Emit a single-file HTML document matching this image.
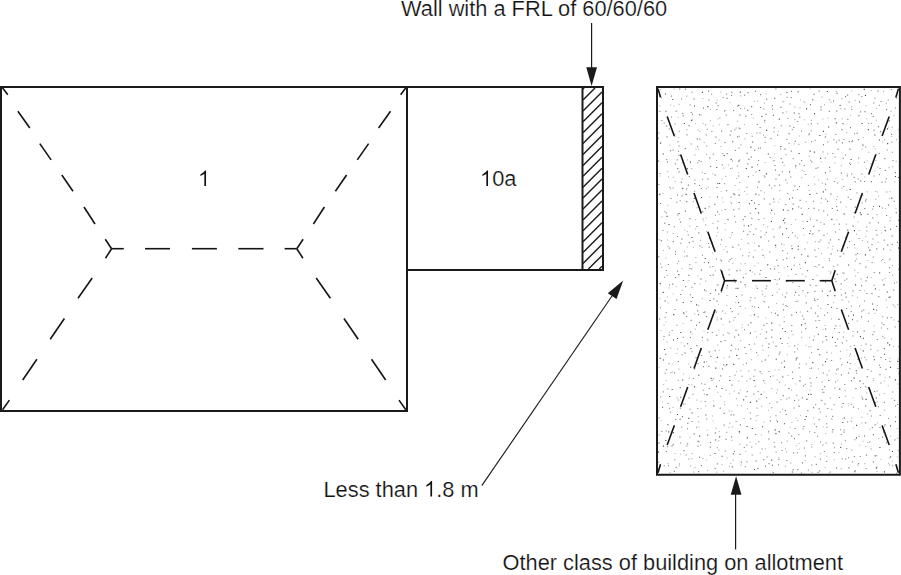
<!DOCTYPE html>
<html><head><meta charset="utf-8"><style>
html,body{margin:0;padding:0;background:#fff;width:901px;height:575px;overflow:hidden}
svg{display:block}
text{font-family:"Liberation Sans",sans-serif}
</style></head><body>
<svg width="901" height="575" viewBox="0 0 901 575">
<path d="M664.9 93.4h1.1v1.1h-1.1zM701.8 91.8h1.1v1.1h-1.1zM739.7 91.6h1.1v1.1h-1.1zM786.4 92.0h1.1v1.1h-1.1zM797.6 91.2h1.1v1.1h-1.1zM826.8 91.0h1.1v1.1h-1.1zM863.7 88.8h1.1v1.1h-1.1zM672.2 98.9h1.1v1.1h-1.1zM774.2 97.7h1.1v1.1h-1.1zM812.2 99.2h1.1v1.1h-1.1zM864.9 94.8h1.1v1.1h-1.1zM693.9 105.4h1.1v1.1h-1.1zM707.3 106.1h1.1v1.1h-1.1zM738.2 104.8h1.1v1.1h-1.1zM780.4 106.7h1.1v1.1h-1.1zM839.6 104.9h1.1v1.1h-1.1zM859.0 101.4h1.1v1.1h-1.1zM665.4 110.7h1.1v1.1h-1.1zM747.2 109.7h1.1v1.1h-1.1zM793.8 112.4h1.1v1.1h-1.1zM806.0 108.3h1.1v1.1h-1.1zM814.0 113.1h1.1v1.1h-1.1zM690.9 119.9h1.1v1.1h-1.1zM761.3 116.0h1.1v1.1h-1.1zM772.8 114.7h1.1v1.1h-1.1zM778.8 118.6h1.1v1.1h-1.1zM834.6 118.2h1.1v1.1h-1.1zM888.6 120.3h1.1v1.1h-1.1zM683.8 122.9h1.1v1.1h-1.1zM688.5 125.2h1.1v1.1h-1.1zM828.0 126.5h1.1v1.1h-1.1zM835.8 122.3h1.1v1.1h-1.1zM861.6 122.9h1.1v1.1h-1.1zM766.1 129.8h1.1v1.1h-1.1zM788.6 133.2h1.1v1.1h-1.1zM808.8 133.4h1.1v1.1h-1.1zM822.8 130.8h1.1v1.1h-1.1zM856.6 132.7h1.1v1.1h-1.1zM867.8 129.1h1.1v1.1h-1.1zM887.0 128.3h1.1v1.1h-1.1zM696.8 138.5h1.1v1.1h-1.1zM819.3 134.9h1.1v1.1h-1.1zM824.8 136.5h1.1v1.1h-1.1zM874.3 134.5h1.1v1.1h-1.1zM878.9 139.5h1.1v1.1h-1.1zM660.1 142.6h1.1v1.1h-1.1zM732.2 141.2h1.1v1.1h-1.1zM750.3 146.6h1.1v1.1h-1.1zM752.1 141.4h1.1v1.1h-1.1zM780.4 145.9h1.1v1.1h-1.1zM862.4 144.6h1.1v1.1h-1.1zM887.1 143.1h1.1v1.1h-1.1zM662.8 153.4h1.1v1.1h-1.1zM767.8 153.4h1.1v1.1h-1.1zM784.5 148.5h1.1v1.1h-1.1zM798.6 152.9h1.1v1.1h-1.1zM809.6 150.6h1.1v1.1h-1.1zM813.8 151.6h1.1v1.1h-1.1zM709.3 157.4h1.1v1.1h-1.1zM723.7 154.9h1.1v1.1h-1.1zM730.6 158.8h1.1v1.1h-1.1zM820.1 157.8h1.1v1.1h-1.1zM850.6 158.9h1.1v1.1h-1.1zM689.9 161.6h1.1v1.1h-1.1zM716.2 167.0h1.1v1.1h-1.1zM738.3 160.6h1.1v1.1h-1.1zM751.5 166.6h1.1v1.1h-1.1zM795.2 165.3h1.1v1.1h-1.1zM677.2 168.2h1.1v1.1h-1.1zM686.7 168.1h1.1v1.1h-1.1zM745.7 167.9h1.1v1.1h-1.1zM759.1 170.0h1.1v1.1h-1.1zM765.9 173.3h1.1v1.1h-1.1zM789.0 171.3h1.1v1.1h-1.1zM824.9 172.2h1.1v1.1h-1.1zM778.6 174.5h1.1v1.1h-1.1zM894.9 176.0h1.1v1.1h-1.1zM898.2 177.0h1.1v1.1h-1.1zM717.3 182.7h1.1v1.1h-1.1zM719.1 182.9h1.1v1.1h-1.1zM758.4 181.3h1.1v1.1h-1.1zM860.2 180.5h1.1v1.1h-1.1zM682.2 187.8h1.1v1.1h-1.1zM733.4 193.3h1.1v1.1h-1.1zM755.3 193.6h1.1v1.1h-1.1zM822.8 191.3h1.1v1.1h-1.1zM830.4 193.4h1.1v1.1h-1.1zM849.7 189.0h1.1v1.1h-1.1zM659.2 193.8h1.1v1.1h-1.1zM685.6 193.8h1.1v1.1h-1.1zM693.8 197.8h1.1v1.1h-1.1zM700.9 197.0h1.1v1.1h-1.1zM716.9 196.5h1.1v1.1h-1.1zM738.6 194.6h1.1v1.1h-1.1zM751.2 200.0h1.1v1.1h-1.1zM773.2 198.5h1.1v1.1h-1.1zM789.0 198.4h1.1v1.1h-1.1zM809.2 193.9h1.1v1.1h-1.1zM891.2 197.6h1.1v1.1h-1.1zM686.2 201.2h1.1v1.1h-1.1zM738.6 201.9h1.1v1.1h-1.1zM749.0 203.2h1.1v1.1h-1.1zM753.9 202.5h1.1v1.1h-1.1zM865.1 200.4h1.1v1.1h-1.1zM879.0 205.8h1.1v1.1h-1.1zM888.1 204.4h1.1v1.1h-1.1zM684.8 210.4h1.1v1.1h-1.1zM704.6 207.8h1.1v1.1h-1.1zM755.1 208.1h1.1v1.1h-1.1zM758.0 212.3h1.1v1.1h-1.1zM771.1 209.8h1.1v1.1h-1.1zM782.9 209.3h1.1v1.1h-1.1zM792.1 208.3h1.1v1.1h-1.1zM843.6 213.3h1.1v1.1h-1.1zM859.7 212.3h1.1v1.1h-1.1zM666.5 215.8h1.1v1.1h-1.1zM727.4 219.0h1.1v1.1h-1.1zM783.0 219.8h1.1v1.1h-1.1zM801.6 213.8h1.1v1.1h-1.1zM831.3 218.8h1.1v1.1h-1.1zM860.6 214.1h1.1v1.1h-1.1zM867.3 213.7h1.1v1.1h-1.1zM898.2 219.7h1.1v1.1h-1.1zM668.5 224.0h1.1v1.1h-1.1zM748.0 225.3h1.1v1.1h-1.1zM770.9 220.8h1.1v1.1h-1.1zM806.7 221.0h1.1v1.1h-1.1zM852.6 225.4h1.1v1.1h-1.1zM716.8 227.4h1.1v1.1h-1.1zM809.1 232.9h1.1v1.1h-1.1zM847.3 229.6h1.1v1.1h-1.1zM853.9 230.1h1.1v1.1h-1.1zM884.7 230.1h1.1v1.1h-1.1zM890.1 228.7h1.1v1.1h-1.1zM691.4 236.9h1.1v1.1h-1.1zM709.0 237.8h1.1v1.1h-1.1zM760.4 236.6h1.1v1.1h-1.1zM782.1 233.6h1.1v1.1h-1.1zM660.7 240.2h1.1v1.1h-1.1zM758.4 245.6h1.1v1.1h-1.1zM775.1 244.8h1.1v1.1h-1.1zM797.8 245.7h1.1v1.1h-1.1zM887.2 244.5h1.1v1.1h-1.1zM791.6 248.1h1.1v1.1h-1.1zM797.7 248.7h1.1v1.1h-1.1zM869.3 249.6h1.1v1.1h-1.1zM883.1 248.4h1.1v1.1h-1.1zM898.0 247.5h1.1v1.1h-1.1zM686.5 255.4h1.1v1.1h-1.1zM704.7 257.9h1.1v1.1h-1.1zM762.5 254.7h1.1v1.1h-1.1zM807.4 255.6h1.1v1.1h-1.1zM830.5 253.5h1.1v1.1h-1.1zM864.9 254.3h1.1v1.1h-1.1zM707.9 262.2h1.1v1.1h-1.1zM767.2 264.3h1.1v1.1h-1.1zM804.8 262.1h1.1v1.1h-1.1zM848.1 264.5h1.1v1.1h-1.1zM700.8 269.4h1.1v1.1h-1.1zM736.4 270.2h1.1v1.1h-1.1zM749.7 270.1h1.1v1.1h-1.1zM774.0 268.4h1.1v1.1h-1.1zM790.9 268.7h1.1v1.1h-1.1zM678.3 274.1h1.1v1.1h-1.1zM700.4 278.5h1.1v1.1h-1.1zM712.6 274.5h1.1v1.1h-1.1zM765.4 277.0h1.1v1.1h-1.1zM778.9 278.5h1.1v1.1h-1.1zM812.4 279.0h1.1v1.1h-1.1zM659.7 283.1h1.1v1.1h-1.1zM682.8 280.0h1.1v1.1h-1.1zM740.2 281.5h1.1v1.1h-1.1zM744.5 284.2h1.1v1.1h-1.1zM855.0 284.3h1.1v1.1h-1.1zM883.4 284.3h1.1v1.1h-1.1zM662.7 291.8h1.1v1.1h-1.1zM704.0 289.5h1.1v1.1h-1.1zM715.0 289.6h1.1v1.1h-1.1zM720.9 291.5h1.1v1.1h-1.1zM737.3 287.8h1.1v1.1h-1.1zM821.8 290.4h1.1v1.1h-1.1zM844.9 292.4h1.1v1.1h-1.1zM874.9 288.3h1.1v1.1h-1.1zM886.8 291.5h1.1v1.1h-1.1zM784.7 296.4h1.1v1.1h-1.1zM827.1 295.1h1.1v1.1h-1.1zM834.3 295.1h1.1v1.1h-1.1zM888.6 296.8h1.1v1.1h-1.1zM664.6 300.4h1.1v1.1h-1.1zM682.7 301.9h1.1v1.1h-1.1zM696.1 304.3h1.1v1.1h-1.1zM709.6 299.9h1.1v1.1h-1.1zM738.1 301.9h1.1v1.1h-1.1zM827.4 304.0h1.1v1.1h-1.1zM872.1 303.4h1.1v1.1h-1.1zM873.1 308.8h1.1v1.1h-1.1zM673.2 314.1h1.1v1.1h-1.1zM720.7 318.3h1.1v1.1h-1.1zM753.8 314.3h1.1v1.1h-1.1zM777.3 314.6h1.1v1.1h-1.1zM791.2 314.4h1.1v1.1h-1.1zM838.4 318.8h1.1v1.1h-1.1zM852.9 314.6h1.1v1.1h-1.1zM750.4 322.2h1.1v1.1h-1.1zM771.2 322.6h1.1v1.1h-1.1zM801.0 324.3h1.1v1.1h-1.1zM680.2 332.0h1.1v1.1h-1.1zM690.2 331.5h1.1v1.1h-1.1zM771.3 329.4h1.1v1.1h-1.1zM784.7 330.9h1.1v1.1h-1.1zM825.1 328.5h1.1v1.1h-1.1zM857.1 331.5h1.1v1.1h-1.1zM677.0 338.0h1.1v1.1h-1.1zM738.1 334.4h1.1v1.1h-1.1zM749.9 332.6h1.1v1.1h-1.1zM780.1 338.1h1.1v1.1h-1.1zM817.8 333.7h1.1v1.1h-1.1zM825.4 336.0h1.1v1.1h-1.1zM832.0 336.8h1.1v1.1h-1.1zM859.9 336.1h1.1v1.1h-1.1zM862.9 337.7h1.1v1.1h-1.1zM673.0 339.4h1.1v1.1h-1.1zM687.1 343.2h1.1v1.1h-1.1zM731.1 344.7h1.1v1.1h-1.1zM768.4 343.5h1.1v1.1h-1.1zM812.8 339.5h1.1v1.1h-1.1zM887.2 342.3h1.1v1.1h-1.1zM889.1 344.3h1.1v1.1h-1.1zM663.9 348.9h1.1v1.1h-1.1zM690.4 347.9h1.1v1.1h-1.1zM708.7 351.4h1.1v1.1h-1.1zM775.5 345.7h1.1v1.1h-1.1zM817.5 348.8h1.1v1.1h-1.1zM835.6 345.4h1.1v1.1h-1.1zM862.7 350.3h1.1v1.1h-1.1zM883.8 348.2h1.1v1.1h-1.1zM659.6 357.8h1.1v1.1h-1.1zM684.4 352.5h1.1v1.1h-1.1zM716.8 356.8h1.1v1.1h-1.1zM736.2 354.8h1.1v1.1h-1.1zM819.2 354.2h1.1v1.1h-1.1zM884.0 353.7h1.1v1.1h-1.1zM662.9 359.5h1.1v1.1h-1.1zM703.7 361.6h1.1v1.1h-1.1zM726.3 364.1h1.1v1.1h-1.1zM733.2 363.8h1.1v1.1h-1.1zM764.8 359.5h1.1v1.1h-1.1zM812.2 362.1h1.1v1.1h-1.1zM824.9 361.1h1.1v1.1h-1.1zM847.0 361.7h1.1v1.1h-1.1zM873.9 359.2h1.1v1.1h-1.1zM897.2 360.8h1.1v1.1h-1.1zM690.1 366.6h1.1v1.1h-1.1zM715.2 367.6h1.1v1.1h-1.1zM783.9 366.6h1.1v1.1h-1.1zM855.8 370.2h1.1v1.1h-1.1zM889.9 366.8h1.1v1.1h-1.1zM698.2 374.7h1.1v1.1h-1.1zM710.6 377.8h1.1v1.1h-1.1zM782.2 376.4h1.1v1.1h-1.1zM853.6 377.6h1.1v1.1h-1.1zM682.1 379.5h1.1v1.1h-1.1zM729.2 380.0h1.1v1.1h-1.1zM753.6 380.1h1.1v1.1h-1.1zM799.4 380.3h1.1v1.1h-1.1zM828.2 379.9h1.1v1.1h-1.1zM859.4 380.6h1.1v1.1h-1.1zM894.9 379.3h1.1v1.1h-1.1zM671.6 389.0h1.1v1.1h-1.1zM694.0 386.3h1.1v1.1h-1.1zM715.9 385.7h1.1v1.1h-1.1zM721.5 387.9h1.1v1.1h-1.1zM788.5 387.9h1.1v1.1h-1.1zM839.2 388.6h1.1v1.1h-1.1zM669.1 396.0h1.1v1.1h-1.1zM706.5 394.1h1.1v1.1h-1.1zM760.6 393.8h1.1v1.1h-1.1zM782.6 395.2h1.1v1.1h-1.1zM808.0 394.0h1.1v1.1h-1.1zM810.5 393.8h1.1v1.1h-1.1zM875.8 397.5h1.1v1.1h-1.1zM743.1 399.3h1.1v1.1h-1.1zM749.8 401.8h1.1v1.1h-1.1zM756.1 400.6h1.1v1.1h-1.1zM806.3 398.8h1.1v1.1h-1.1zM842.6 403.0h1.1v1.1h-1.1zM862.1 398.5h1.1v1.1h-1.1zM865.5 398.8h1.1v1.1h-1.1zM713.3 405.3h1.1v1.1h-1.1zM798.5 405.7h1.1v1.1h-1.1zM813.1 407.2h1.1v1.1h-1.1zM676.9 413.9h1.1v1.1h-1.1zM688.3 417.8h1.1v1.1h-1.1zM691.6 412.5h1.1v1.1h-1.1zM705.3 414.5h1.1v1.1h-1.1zM723.6 412.7h1.1v1.1h-1.1zM805.7 416.0h1.1v1.1h-1.1zM667.4 424.2h1.1v1.1h-1.1zM777.0 421.2h1.1v1.1h-1.1zM783.9 423.2h1.1v1.1h-1.1zM804.4 418.9h1.1v1.1h-1.1zM842.2 422.0h1.1v1.1h-1.1zM738.8 431.0h1.1v1.1h-1.1zM746.6 426.0h1.1v1.1h-1.1zM751.8 427.9h1.1v1.1h-1.1zM762.0 426.2h1.1v1.1h-1.1zM774.7 429.3h1.1v1.1h-1.1zM778.6 431.0h1.1v1.1h-1.1zM832.3 429.2h1.1v1.1h-1.1zM856.1 424.8h1.1v1.1h-1.1zM890.0 425.3h1.1v1.1h-1.1zM668.2 431.3h1.1v1.1h-1.1zM672.8 432.1h1.1v1.1h-1.1zM693.6 433.4h1.1v1.1h-1.1zM699.1 435.6h1.1v1.1h-1.1zM707.2 434.5h1.1v1.1h-1.1zM714.8 432.4h1.1v1.1h-1.1zM719.1 436.3h1.1v1.1h-1.1zM746.7 437.3h1.1v1.1h-1.1zM775.4 433.1h1.1v1.1h-1.1zM855.9 437.3h1.1v1.1h-1.1zM872.9 434.2h1.1v1.1h-1.1zM658.3 442.5h1.1v1.1h-1.1zM665.3 439.9h1.1v1.1h-1.1zM697.5 440.7h1.1v1.1h-1.1zM715.1 439.5h1.1v1.1h-1.1zM662.9 445.6h1.1v1.1h-1.1zM840.1 446.9h1.1v1.1h-1.1zM879.4 447.0h1.1v1.1h-1.1zM891.9 451.0h1.1v1.1h-1.1zM658.0 451.6h1.1v1.1h-1.1zM714.5 452.9h1.1v1.1h-1.1zM721.5 455.7h1.1v1.1h-1.1zM732.8 453.2h1.1v1.1h-1.1zM874.6 455.3h1.1v1.1h-1.1zM890.0 456.3h1.1v1.1h-1.1zM771.1 459.6h1.1v1.1h-1.1zM731.7 466.5h1.1v1.1h-1.1zM754.0 469.0h1.1v1.1h-1.1zM757.4 468.0h1.1v1.1h-1.1zM792.7 469.2h1.1v1.1h-1.1zM875.8 467.6h1.1v1.1h-1.1zM791.8 471.5h1.1v1.1h-1.1zM854.1 471.2h1.1v1.1h-1.1zM883.9 471.3h1.1v1.1h-1.1z" fill="#4a4a4a"/>
<path d="M679.2 88.6h1.1v1.1h-1.1zM684.9 88.6h1.1v1.1h-1.1zM691.4 91.7h1.1v1.1h-1.1zM708.0 90.6h1.1v1.1h-1.1zM711.1 93.7h1.1v1.1h-1.1zM726.0 93.4h1.1v1.1h-1.1zM731.3 91.8h1.1v1.1h-1.1zM747.5 92.1h1.1v1.1h-1.1zM754.9 90.8h1.1v1.1h-1.1zM760.1 94.1h1.1v1.1h-1.1zM775.3 88.5h1.1v1.1h-1.1zM790.8 90.8h1.1v1.1h-1.1zM813.6 93.8h1.1v1.1h-1.1zM818.6 90.3h1.1v1.1h-1.1zM836.6 92.8h1.1v1.1h-1.1zM847.1 94.6h1.1v1.1h-1.1zM858.3 94.2h1.1v1.1h-1.1zM877.4 90.6h1.1v1.1h-1.1zM890.8 88.9h1.1v1.1h-1.1zM660.7 97.0h1.1v1.1h-1.1zM670.9 95.6h1.1v1.1h-1.1zM681.0 98.5h1.1v1.1h-1.1zM693.4 98.3h1.1v1.1h-1.1zM708.5 99.5h1.1v1.1h-1.1zM722.7 97.2h1.1v1.1h-1.1zM726.6 97.8h1.1v1.1h-1.1zM731.0 95.0h1.1v1.1h-1.1zM744.1 94.6h1.1v1.1h-1.1zM766.1 98.8h1.1v1.1h-1.1zM782.4 101.2h1.1v1.1h-1.1zM786.6 96.7h1.1v1.1h-1.1zM790.7 96.9h1.1v1.1h-1.1zM828.7 99.2h1.1v1.1h-1.1zM833.0 100.6h1.1v1.1h-1.1zM845.0 96.1h1.1v1.1h-1.1zM861.3 95.9h1.1v1.1h-1.1zM874.4 97.7h1.1v1.1h-1.1zM880.4 100.9h1.1v1.1h-1.1zM887.7 99.4h1.1v1.1h-1.1zM895.3 97.0h1.1v1.1h-1.1zM896.3 97.7h1.1v1.1h-1.1zM689.4 104.4h1.1v1.1h-1.1zM702.9 107.6h1.1v1.1h-1.1zM715.6 102.3h1.1v1.1h-1.1zM717.6 105.1h1.1v1.1h-1.1zM737.1 105.5h1.1v1.1h-1.1zM751.1 106.1h1.1v1.1h-1.1zM759.9 107.0h1.1v1.1h-1.1zM771.8 105.1h1.1v1.1h-1.1zM789.4 103.5h1.1v1.1h-1.1zM809.9 104.1h1.1v1.1h-1.1zM820.4 106.3h1.1v1.1h-1.1zM848.6 101.6h1.1v1.1h-1.1zM873.2 102.5h1.1v1.1h-1.1zM878.8 104.7h1.1v1.1h-1.1zM894.8 107.4h1.1v1.1h-1.1zM659.3 110.8h1.1v1.1h-1.1zM675.6 110.6h1.1v1.1h-1.1zM682.2 113.0h1.1v1.1h-1.1zM690.6 112.0h1.1v1.1h-1.1zM691.9 113.6h1.1v1.1h-1.1zM699.0 114.1h1.1v1.1h-1.1zM716.3 108.9h1.1v1.1h-1.1zM724.0 110.5h1.1v1.1h-1.1zM733.0 110.0h1.1v1.1h-1.1zM740.1 107.9h1.1v1.1h-1.1zM751.1 113.9h1.1v1.1h-1.1zM763.4 108.5h1.1v1.1h-1.1zM765.4 113.8h1.1v1.1h-1.1zM772.0 108.7h1.1v1.1h-1.1zM782.4 112.3h1.1v1.1h-1.1zM798.4 113.1h1.1v1.1h-1.1zM820.4 109.3h1.1v1.1h-1.1zM828.7 110.8h1.1v1.1h-1.1zM836.2 110.6h1.1v1.1h-1.1zM844.4 108.5h1.1v1.1h-1.1zM851.1 109.0h1.1v1.1h-1.1zM860.1 111.3h1.1v1.1h-1.1zM864.5 111.1h1.1v1.1h-1.1zM871.0 113.1h1.1v1.1h-1.1zM886.0 109.1h1.1v1.1h-1.1zM661.3 119.9h1.1v1.1h-1.1zM671.0 116.4h1.1v1.1h-1.1zM682.6 115.3h1.1v1.1h-1.1zM691.5 119.3h1.1v1.1h-1.1zM719.3 117.4h1.1v1.1h-1.1zM725.8 114.4h1.1v1.1h-1.1zM739.3 114.6h1.1v1.1h-1.1zM745.2 115.6h1.1v1.1h-1.1zM764.2 119.8h1.1v1.1h-1.1zM787.3 117.9h1.1v1.1h-1.1zM799.2 116.6h1.1v1.1h-1.1zM847.3 119.0h1.1v1.1h-1.1zM858.4 115.1h1.1v1.1h-1.1zM872.7 116.0h1.1v1.1h-1.1zM663.6 122.5h1.1v1.1h-1.1zM666.1 125.3h1.1v1.1h-1.1zM674.5 123.5h1.1v1.1h-1.1zM705.1 124.2h1.1v1.1h-1.1zM727.4 124.1h1.1v1.1h-1.1zM738.5 127.5h1.1v1.1h-1.1zM756.8 124.0h1.1v1.1h-1.1zM759.6 127.0h1.1v1.1h-1.1zM773.7 127.3h1.1v1.1h-1.1zM780.8 125.2h1.1v1.1h-1.1zM789.3 125.6h1.1v1.1h-1.1zM793.3 126.8h1.1v1.1h-1.1zM796.8 121.0h1.1v1.1h-1.1zM810.7 123.3h1.1v1.1h-1.1zM817.2 123.2h1.1v1.1h-1.1zM842.2 122.9h1.1v1.1h-1.1zM849.9 127.1h1.1v1.1h-1.1zM868.1 122.9h1.1v1.1h-1.1zM877.9 126.1h1.1v1.1h-1.1zM658.3 132.4h1.1v1.1h-1.1zM668.7 128.5h1.1v1.1h-1.1zM678.6 130.7h1.1v1.1h-1.1zM706.8 128.7h1.1v1.1h-1.1zM711.3 130.9h1.1v1.1h-1.1zM721.0 130.6h1.1v1.1h-1.1zM730.6 130.6h1.1v1.1h-1.1zM734.2 129.2h1.1v1.1h-1.1zM739.5 128.2h1.1v1.1h-1.1zM746.2 132.9h1.1v1.1h-1.1zM756.3 132.5h1.1v1.1h-1.1zM759.5 132.5h1.1v1.1h-1.1zM773.5 131.4h1.1v1.1h-1.1zM791.8 129.2h1.1v1.1h-1.1zM800.9 130.5h1.1v1.1h-1.1zM810.6 130.4h1.1v1.1h-1.1zM835.2 134.0h1.1v1.1h-1.1zM841.4 129.1h1.1v1.1h-1.1zM854.0 133.2h1.1v1.1h-1.1zM873.5 129.6h1.1v1.1h-1.1zM879.9 131.1h1.1v1.1h-1.1zM891.0 133.8h1.1v1.1h-1.1zM658.0 137.7h1.1v1.1h-1.1zM666.4 136.3h1.1v1.1h-1.1zM674.3 135.7h1.1v1.1h-1.1zM686.4 134.3h1.1v1.1h-1.1zM699.3 138.6h1.1v1.1h-1.1zM705.7 134.4h1.1v1.1h-1.1zM715.5 136.6h1.1v1.1h-1.1zM729.6 134.6h1.1v1.1h-1.1zM737.0 136.3h1.1v1.1h-1.1zM738.7 135.7h1.1v1.1h-1.1zM751.6 135.7h1.1v1.1h-1.1zM764.6 136.8h1.1v1.1h-1.1zM770.4 138.1h1.1v1.1h-1.1zM777.1 134.6h1.1v1.1h-1.1zM786.4 138.9h1.1v1.1h-1.1zM794.8 140.8h1.1v1.1h-1.1zM814.6 139.7h1.1v1.1h-1.1zM833.3 139.2h1.1v1.1h-1.1zM838.6 139.6h1.1v1.1h-1.1zM843.4 138.9h1.1v1.1h-1.1zM851.9 140.3h1.1v1.1h-1.1zM858.1 139.1h1.1v1.1h-1.1zM677.4 141.2h1.1v1.1h-1.1zM678.5 145.5h1.1v1.1h-1.1zM690.7 143.4h1.1v1.1h-1.1zM697.0 146.2h1.1v1.1h-1.1zM706.2 145.4h1.1v1.1h-1.1zM714.8 143.0h1.1v1.1h-1.1zM724.5 142.1h1.1v1.1h-1.1zM740.4 144.4h1.1v1.1h-1.1zM759.8 147.3h1.1v1.1h-1.1zM764.7 141.7h1.1v1.1h-1.1zM788.5 142.7h1.1v1.1h-1.1zM798.3 143.7h1.1v1.1h-1.1zM811.0 141.2h1.1v1.1h-1.1zM823.0 144.1h1.1v1.1h-1.1zM827.3 141.5h1.1v1.1h-1.1zM836.1 141.5h1.1v1.1h-1.1zM842.0 142.3h1.1v1.1h-1.1zM848.8 141.1h1.1v1.1h-1.1zM865.1 146.5h1.1v1.1h-1.1zM891.4 141.7h1.1v1.1h-1.1zM670.0 150.1h1.1v1.1h-1.1zM672.4 149.5h1.1v1.1h-1.1zM678.0 150.7h1.1v1.1h-1.1zM684.8 148.1h1.1v1.1h-1.1zM712.8 153.7h1.1v1.1h-1.1zM722.3 153.2h1.1v1.1h-1.1zM726.7 153.1h1.1v1.1h-1.1zM734.9 150.0h1.1v1.1h-1.1zM738.5 147.4h1.1v1.1h-1.1zM746.6 152.8h1.1v1.1h-1.1zM754.2 149.8h1.1v1.1h-1.1zM757.9 147.7h1.1v1.1h-1.1zM780.1 148.4h1.1v1.1h-1.1zM790.7 150.6h1.1v1.1h-1.1zM822.4 151.5h1.1v1.1h-1.1zM832.3 153.0h1.1v1.1h-1.1zM837.4 148.8h1.1v1.1h-1.1zM849.0 148.4h1.1v1.1h-1.1zM878.8 153.0h1.1v1.1h-1.1zM886.7 149.4h1.1v1.1h-1.1zM891.8 151.7h1.1v1.1h-1.1zM658.0 160.5h1.1v1.1h-1.1zM666.2 159.0h1.1v1.1h-1.1zM676.7 159.3h1.1v1.1h-1.1zM678.5 154.8h1.1v1.1h-1.1zM698.5 160.1h1.1v1.1h-1.1zM731.9 160.5h1.1v1.1h-1.1zM739.1 159.4h1.1v1.1h-1.1zM748.3 158.8h1.1v1.1h-1.1zM750.8 156.3h1.1v1.1h-1.1zM758.0 159.9h1.1v1.1h-1.1zM769.6 157.0h1.1v1.1h-1.1zM773.5 160.1h1.1v1.1h-1.1zM780.7 158.1h1.1v1.1h-1.1zM785.5 154.2h1.1v1.1h-1.1zM792.7 158.2h1.1v1.1h-1.1zM801.1 159.9h1.1v1.1h-1.1zM810.1 159.7h1.1v1.1h-1.1zM824.7 157.5h1.1v1.1h-1.1zM834.5 156.5h1.1v1.1h-1.1zM842.7 157.8h1.1v1.1h-1.1zM845.0 154.5h1.1v1.1h-1.1zM858.0 157.4h1.1v1.1h-1.1zM875.8 154.2h1.1v1.1h-1.1zM884.3 158.1h1.1v1.1h-1.1zM892.4 159.9h1.1v1.1h-1.1zM666.9 161.3h1.1v1.1h-1.1zM674.7 163.3h1.1v1.1h-1.1zM697.2 162.2h1.1v1.1h-1.1zM700.6 161.0h1.1v1.1h-1.1zM710.0 165.8h1.1v1.1h-1.1zM721.7 164.3h1.1v1.1h-1.1zM736.8 165.4h1.1v1.1h-1.1zM747.3 163.3h1.1v1.1h-1.1zM757.1 164.2h1.1v1.1h-1.1zM774.4 164.9h1.1v1.1h-1.1zM782.2 161.8h1.1v1.1h-1.1zM799.1 163.5h1.1v1.1h-1.1zM803.7 164.9h1.1v1.1h-1.1zM811.3 161.3h1.1v1.1h-1.1zM829.1 166.8h1.1v1.1h-1.1zM849.2 162.6h1.1v1.1h-1.1zM850.0 163.9h1.1v1.1h-1.1zM863.9 161.7h1.1v1.1h-1.1zM659.5 173.0h1.1v1.1h-1.1zM678.5 171.3h1.1v1.1h-1.1zM704.5 172.9h1.1v1.1h-1.1zM730.2 167.9h1.1v1.1h-1.1zM755.6 171.5h1.1v1.1h-1.1zM774.9 169.6h1.1v1.1h-1.1zM781.9 171.2h1.1v1.1h-1.1zM815.5 167.8h1.1v1.1h-1.1zM817.5 167.2h1.1v1.1h-1.1zM829.6 170.4h1.1v1.1h-1.1zM840.8 172.6h1.1v1.1h-1.1zM851.1 173.4h1.1v1.1h-1.1zM861.4 173.4h1.1v1.1h-1.1zM879.5 167.9h1.1v1.1h-1.1zM884.7 169.8h1.1v1.1h-1.1zM894.9 172.1h1.1v1.1h-1.1zM688.7 176.1h1.1v1.1h-1.1zM694.4 179.5h1.1v1.1h-1.1zM702.0 178.7h1.1v1.1h-1.1zM707.3 178.3h1.1v1.1h-1.1zM714.6 174.6h1.1v1.1h-1.1zM738.2 175.4h1.1v1.1h-1.1zM747.8 176.1h1.1v1.1h-1.1zM764.3 176.3h1.1v1.1h-1.1zM775.4 178.6h1.1v1.1h-1.1zM785.3 179.6h1.1v1.1h-1.1zM790.2 176.4h1.1v1.1h-1.1zM805.2 173.9h1.1v1.1h-1.1zM826.8 178.7h1.1v1.1h-1.1zM846.7 175.3h1.1v1.1h-1.1zM853.6 176.8h1.1v1.1h-1.1zM857.7 178.4h1.1v1.1h-1.1zM873.4 175.5h1.1v1.1h-1.1zM879.0 173.9h1.1v1.1h-1.1zM885.8 178.2h1.1v1.1h-1.1zM658.3 184.0h1.1v1.1h-1.1zM669.3 186.7h1.1v1.1h-1.1zM680.8 181.8h1.1v1.1h-1.1zM687.8 184.6h1.1v1.1h-1.1zM694.4 183.1h1.1v1.1h-1.1zM699.0 184.9h1.1v1.1h-1.1zM724.1 183.2h1.1v1.1h-1.1zM746.4 186.7h1.1v1.1h-1.1zM757.0 186.7h1.1v1.1h-1.1zM768.9 184.6h1.1v1.1h-1.1zM774.4 185.2h1.1v1.1h-1.1zM779.1 184.6h1.1v1.1h-1.1zM794.3 185.5h1.1v1.1h-1.1zM798.9 186.0h1.1v1.1h-1.1zM807.8 184.9h1.1v1.1h-1.1zM825.0 183.6h1.1v1.1h-1.1zM833.7 181.0h1.1v1.1h-1.1zM837.2 182.4h1.1v1.1h-1.1zM843.2 185.9h1.1v1.1h-1.1zM854.6 181.3h1.1v1.1h-1.1zM864.0 180.9h1.1v1.1h-1.1zM870.9 181.1h1.1v1.1h-1.1zM881.4 181.6h1.1v1.1h-1.1zM884.7 181.4h1.1v1.1h-1.1zM672.6 187.5h1.1v1.1h-1.1zM686.1 188.5h1.1v1.1h-1.1zM694.1 190.7h1.1v1.1h-1.1zM700.7 188.0h1.1v1.1h-1.1zM716.5 187.0h1.1v1.1h-1.1zM726.0 190.1h1.1v1.1h-1.1zM760.4 190.2h1.1v1.1h-1.1zM787.1 193.0h1.1v1.1h-1.1zM796.9 188.9h1.1v1.1h-1.1zM816.3 192.8h1.1v1.1h-1.1zM825.2 189.1h1.1v1.1h-1.1zM856.3 192.4h1.1v1.1h-1.1zM886.3 191.5h1.1v1.1h-1.1zM670.6 197.9h1.1v1.1h-1.1zM677.0 194.5h1.1v1.1h-1.1zM681.5 195.3h1.1v1.1h-1.1zM730.5 196.7h1.1v1.1h-1.1zM734.2 194.1h1.1v1.1h-1.1zM758.4 194.4h1.1v1.1h-1.1zM763.7 198.3h1.1v1.1h-1.1zM791.9 197.3h1.1v1.1h-1.1zM799.6 199.8h1.1v1.1h-1.1zM820.9 197.7h1.1v1.1h-1.1zM825.1 198.4h1.1v1.1h-1.1zM847.6 196.7h1.1v1.1h-1.1zM850.4 198.9h1.1v1.1h-1.1zM862.3 194.7h1.1v1.1h-1.1zM865.7 198.7h1.1v1.1h-1.1zM660.0 203.0h1.1v1.1h-1.1zM676.3 201.7h1.1v1.1h-1.1zM679.7 200.2h1.1v1.1h-1.1zM708.7 206.2h1.1v1.1h-1.1zM714.3 203.8h1.1v1.1h-1.1zM758.5 204.0h1.1v1.1h-1.1zM769.4 203.6h1.1v1.1h-1.1zM773.5 201.5h1.1v1.1h-1.1zM785.3 204.0h1.1v1.1h-1.1zM792.7 203.6h1.1v1.1h-1.1zM798.2 206.3h1.1v1.1h-1.1zM812.9 200.7h1.1v1.1h-1.1zM827.0 200.8h1.1v1.1h-1.1zM836.1 205.9h1.1v1.1h-1.1zM840.1 201.6h1.1v1.1h-1.1zM854.8 206.6h1.1v1.1h-1.1zM861.6 202.4h1.1v1.1h-1.1zM872.9 205.9h1.1v1.1h-1.1zM893.7 200.8h1.1v1.1h-1.1zM664.3 211.2h1.1v1.1h-1.1zM665.8 212.4h1.1v1.1h-1.1zM677.6 213.3h1.1v1.1h-1.1zM678.9 213.0h1.1v1.1h-1.1zM702.3 211.1h1.1v1.1h-1.1zM717.0 211.3h1.1v1.1h-1.1zM724.7 208.9h1.1v1.1h-1.1zM733.2 209.3h1.1v1.1h-1.1zM738.3 208.4h1.1v1.1h-1.1zM749.8 212.7h1.1v1.1h-1.1zM787.5 209.8h1.1v1.1h-1.1zM800.7 207.7h1.1v1.1h-1.1zM808.1 208.0h1.1v1.1h-1.1zM813.5 207.8h1.1v1.1h-1.1zM818.2 209.5h1.1v1.1h-1.1zM823.2 210.6h1.1v1.1h-1.1zM831.8 207.9h1.1v1.1h-1.1zM836.9 209.8h1.1v1.1h-1.1zM853.6 212.0h1.1v1.1h-1.1zM864.3 208.1h1.1v1.1h-1.1zM872.1 208.5h1.1v1.1h-1.1zM881.9 207.4h1.1v1.1h-1.1zM895.7 212.1h1.1v1.1h-1.1zM689.5 218.1h1.1v1.1h-1.1zM702.4 218.4h1.1v1.1h-1.1zM714.9 214.7h1.1v1.1h-1.1zM734.0 215.7h1.1v1.1h-1.1zM742.8 219.1h1.1v1.1h-1.1zM744.4 216.1h1.1v1.1h-1.1zM751.3 217.8h1.1v1.1h-1.1zM758.2 218.9h1.1v1.1h-1.1zM784.2 218.1h1.1v1.1h-1.1zM810.0 218.7h1.1v1.1h-1.1zM816.5 219.8h1.1v1.1h-1.1zM827.1 214.5h1.1v1.1h-1.1zM853.6 216.5h1.1v1.1h-1.1zM872.3 217.3h1.1v1.1h-1.1zM876.5 214.2h1.1v1.1h-1.1zM886.0 214.9h1.1v1.1h-1.1zM664.2 222.6h1.1v1.1h-1.1zM673.8 226.2h1.1v1.1h-1.1zM680.0 221.6h1.1v1.1h-1.1zM696.3 226.0h1.1v1.1h-1.1zM705.2 224.5h1.1v1.1h-1.1zM717.5 220.7h1.1v1.1h-1.1zM735.0 221.5h1.1v1.1h-1.1zM743.6 225.1h1.1v1.1h-1.1zM750.6 224.2h1.1v1.1h-1.1zM779.7 226.3h1.1v1.1h-1.1zM784.1 222.3h1.1v1.1h-1.1zM813.2 225.8h1.1v1.1h-1.1zM823.6 223.6h1.1v1.1h-1.1zM838.8 223.6h1.1v1.1h-1.1zM866.2 226.4h1.1v1.1h-1.1zM869.3 222.3h1.1v1.1h-1.1zM877.9 222.1h1.1v1.1h-1.1zM884.3 226.5h1.1v1.1h-1.1zM896.0 225.8h1.1v1.1h-1.1zM662.3 230.0h1.1v1.1h-1.1zM698.2 232.3h1.1v1.1h-1.1zM731.6 232.2h1.1v1.1h-1.1zM743.0 230.6h1.1v1.1h-1.1zM749.4 231.2h1.1v1.1h-1.1zM755.2 228.5h1.1v1.1h-1.1zM765.7 231.8h1.1v1.1h-1.1zM785.9 228.1h1.1v1.1h-1.1zM792.1 232.2h1.1v1.1h-1.1zM802.9 227.9h1.1v1.1h-1.1zM810.1 230.3h1.1v1.1h-1.1zM818.4 230.1h1.1v1.1h-1.1zM835.0 231.4h1.1v1.1h-1.1zM866.3 230.4h1.1v1.1h-1.1zM875.6 229.8h1.1v1.1h-1.1zM677.1 236.0h1.1v1.1h-1.1zM681.3 238.6h1.1v1.1h-1.1zM687.7 234.4h1.1v1.1h-1.1zM721.0 239.3h1.1v1.1h-1.1zM747.2 234.1h1.1v1.1h-1.1zM753.1 234.0h1.1v1.1h-1.1zM773.4 236.3h1.1v1.1h-1.1zM787.9 237.0h1.1v1.1h-1.1zM794.7 235.5h1.1v1.1h-1.1zM812.3 233.6h1.1v1.1h-1.1zM820.2 239.5h1.1v1.1h-1.1zM823.4 234.8h1.1v1.1h-1.1zM829.9 239.3h1.1v1.1h-1.1zM838.3 239.1h1.1v1.1h-1.1zM844.8 237.2h1.1v1.1h-1.1zM858.6 237.9h1.1v1.1h-1.1zM872.4 238.4h1.1v1.1h-1.1zM876.4 234.3h1.1v1.1h-1.1zM883.6 239.6h1.1v1.1h-1.1zM891.6 235.6h1.1v1.1h-1.1zM672.8 241.1h1.1v1.1h-1.1zM680.1 242.7h1.1v1.1h-1.1zM688.8 242.1h1.1v1.1h-1.1zM692.6 240.7h1.1v1.1h-1.1zM699.4 245.3h1.1v1.1h-1.1zM707.9 242.9h1.1v1.1h-1.1zM738.1 244.5h1.1v1.1h-1.1zM747.7 242.7h1.1v1.1h-1.1zM768.1 240.4h1.1v1.1h-1.1zM781.1 243.5h1.1v1.1h-1.1zM791.2 245.4h1.1v1.1h-1.1zM818.5 241.3h1.1v1.1h-1.1zM828.4 242.4h1.1v1.1h-1.1zM842.0 245.5h1.1v1.1h-1.1zM849.0 241.0h1.1v1.1h-1.1zM853.9 244.2h1.1v1.1h-1.1zM867.2 241.4h1.1v1.1h-1.1zM871.5 244.0h1.1v1.1h-1.1zM891.7 243.8h1.1v1.1h-1.1zM896.9 241.8h1.1v1.1h-1.1zM668.8 247.6h1.1v1.1h-1.1zM675.0 251.1h1.1v1.1h-1.1zM701.6 246.7h1.1v1.1h-1.1zM708.7 246.6h1.1v1.1h-1.1zM726.6 251.3h1.1v1.1h-1.1zM732.5 247.0h1.1v1.1h-1.1zM769.2 251.5h1.1v1.1h-1.1zM782.2 250.1h1.1v1.1h-1.1zM804.5 248.4h1.1v1.1h-1.1zM814.3 249.6h1.1v1.1h-1.1zM837.1 250.1h1.1v1.1h-1.1zM847.0 247.2h1.1v1.1h-1.1zM857.0 252.9h1.1v1.1h-1.1zM868.1 247.2h1.1v1.1h-1.1zM876.2 248.3h1.1v1.1h-1.1zM658.3 256.1h1.1v1.1h-1.1zM674.9 253.7h1.1v1.1h-1.1zM701.9 254.7h1.1v1.1h-1.1zM715.9 258.5h1.1v1.1h-1.1zM729.6 259.1h1.1v1.1h-1.1zM731.3 257.7h1.1v1.1h-1.1zM742.1 255.2h1.1v1.1h-1.1zM748.1 255.4h1.1v1.1h-1.1zM752.8 256.6h1.1v1.1h-1.1zM776.3 259.6h1.1v1.1h-1.1zM782.8 259.2h1.1v1.1h-1.1zM786.2 257.8h1.1v1.1h-1.1zM794.0 257.1h1.1v1.1h-1.1zM801.1 254.1h1.1v1.1h-1.1zM815.4 256.2h1.1v1.1h-1.1zM828.6 258.2h1.1v1.1h-1.1zM839.6 255.8h1.1v1.1h-1.1zM843.2 253.1h1.1v1.1h-1.1zM855.4 254.1h1.1v1.1h-1.1zM872.8 256.4h1.1v1.1h-1.1zM882.2 259.0h1.1v1.1h-1.1zM660.0 263.4h1.1v1.1h-1.1zM667.8 263.9h1.1v1.1h-1.1zM689.3 264.2h1.1v1.1h-1.1zM703.8 262.0h1.1v1.1h-1.1zM712.3 266.0h1.1v1.1h-1.1zM721.0 260.3h1.1v1.1h-1.1zM777.5 265.1h1.1v1.1h-1.1zM787.0 266.0h1.1v1.1h-1.1zM793.7 264.7h1.1v1.1h-1.1zM799.1 263.7h1.1v1.1h-1.1zM814.4 265.9h1.1v1.1h-1.1zM818.4 264.3h1.1v1.1h-1.1zM829.0 260.2h1.1v1.1h-1.1zM833.3 265.7h1.1v1.1h-1.1zM837.3 264.5h1.1v1.1h-1.1zM854.8 260.4h1.1v1.1h-1.1zM859.4 263.1h1.1v1.1h-1.1zM871.5 261.9h1.1v1.1h-1.1zM661.2 266.7h1.1v1.1h-1.1zM665.8 269.9h1.1v1.1h-1.1zM677.0 270.6h1.1v1.1h-1.1zM689.4 268.0h1.1v1.1h-1.1zM691.1 268.5h1.1v1.1h-1.1zM709.5 266.4h1.1v1.1h-1.1zM720.0 269.3h1.1v1.1h-1.1zM728.6 269.2h1.1v1.1h-1.1zM739.6 269.7h1.1v1.1h-1.1zM760.1 270.0h1.1v1.1h-1.1zM769.8 268.3h1.1v1.1h-1.1zM807.0 270.1h1.1v1.1h-1.1zM822.4 266.8h1.1v1.1h-1.1zM830.3 271.4h1.1v1.1h-1.1zM843.3 272.6h1.1v1.1h-1.1zM865.3 266.6h1.1v1.1h-1.1zM873.6 272.0h1.1v1.1h-1.1zM879.1 272.1h1.1v1.1h-1.1zM889.0 267.2h1.1v1.1h-1.1zM889.0 271.9h1.1v1.1h-1.1zM898.3 268.8h1.1v1.1h-1.1zM664.1 276.7h1.1v1.1h-1.1zM675.0 277.1h1.1v1.1h-1.1zM688.3 274.8h1.1v1.1h-1.1zM709.7 274.9h1.1v1.1h-1.1zM722.4 276.9h1.1v1.1h-1.1zM728.6 274.2h1.1v1.1h-1.1zM733.6 278.7h1.1v1.1h-1.1zM742.9 277.1h1.1v1.1h-1.1zM745.4 273.2h1.1v1.1h-1.1zM759.3 273.7h1.1v1.1h-1.1zM774.4 278.9h1.1v1.1h-1.1zM795.3 274.0h1.1v1.1h-1.1zM834.3 278.3h1.1v1.1h-1.1zM836.8 273.8h1.1v1.1h-1.1zM846.3 278.3h1.1v1.1h-1.1zM860.5 278.5h1.1v1.1h-1.1zM866.9 276.8h1.1v1.1h-1.1zM668.9 284.5h1.1v1.1h-1.1zM672.2 283.6h1.1v1.1h-1.1zM694.3 283.1h1.1v1.1h-1.1zM717.6 284.5h1.1v1.1h-1.1zM726.9 285.1h1.1v1.1h-1.1zM734.8 281.7h1.1v1.1h-1.1zM766.1 285.4h1.1v1.1h-1.1zM776.4 283.5h1.1v1.1h-1.1zM786.3 280.9h1.1v1.1h-1.1zM792.2 282.2h1.1v1.1h-1.1zM798.6 286.0h1.1v1.1h-1.1zM809.7 284.6h1.1v1.1h-1.1zM815.5 285.1h1.1v1.1h-1.1zM822.7 280.3h1.1v1.1h-1.1zM824.9 281.6h1.1v1.1h-1.1zM835.4 281.0h1.1v1.1h-1.1zM840.7 283.3h1.1v1.1h-1.1zM844.2 279.7h1.1v1.1h-1.1zM861.1 285.1h1.1v1.1h-1.1zM865.5 280.3h1.1v1.1h-1.1zM873.7 284.7h1.1v1.1h-1.1zM882.2 279.5h1.1v1.1h-1.1zM894.0 282.5h1.1v1.1h-1.1zM685.1 286.1h1.1v1.1h-1.1zM691.4 286.7h1.1v1.1h-1.1zM705.4 290.5h1.1v1.1h-1.1zM726.3 287.4h1.1v1.1h-1.1zM735.4 287.8h1.1v1.1h-1.1zM756.7 287.8h1.1v1.1h-1.1zM765.5 288.2h1.1v1.1h-1.1zM786.2 292.4h1.1v1.1h-1.1zM795.0 291.8h1.1v1.1h-1.1zM802.5 290.2h1.1v1.1h-1.1zM807.2 292.1h1.1v1.1h-1.1zM814.4 290.8h1.1v1.1h-1.1zM829.9 290.6h1.1v1.1h-1.1zM852.5 290.3h1.1v1.1h-1.1zM859.4 289.9h1.1v1.1h-1.1zM893.2 289.6h1.1v1.1h-1.1zM680.2 294.0h1.1v1.1h-1.1zM689.8 294.2h1.1v1.1h-1.1zM692.0 297.0h1.1v1.1h-1.1zM709.9 292.9h1.1v1.1h-1.1zM713.2 298.3h1.1v1.1h-1.1zM718.2 293.6h1.1v1.1h-1.1zM735.9 296.0h1.1v1.1h-1.1zM741.6 294.4h1.1v1.1h-1.1zM750.4 297.2h1.1v1.1h-1.1zM754.6 297.4h1.1v1.1h-1.1zM771.8 295.0h1.1v1.1h-1.1zM798.4 294.7h1.1v1.1h-1.1zM814.0 298.3h1.1v1.1h-1.1zM817.2 298.9h1.1v1.1h-1.1zM840.9 294.5h1.1v1.1h-1.1zM845.6 296.6h1.1v1.1h-1.1zM866.4 293.0h1.1v1.1h-1.1zM871.4 293.1h1.1v1.1h-1.1zM878.3 296.1h1.1v1.1h-1.1zM889.7 296.3h1.1v1.1h-1.1zM676.2 299.3h1.1v1.1h-1.1zM690.5 301.1h1.1v1.1h-1.1zM716.4 300.6h1.1v1.1h-1.1zM749.6 300.2h1.1v1.1h-1.1zM751.7 305.7h1.1v1.1h-1.1zM763.5 301.0h1.1v1.1h-1.1zM782.6 303.7h1.1v1.1h-1.1zM785.4 304.9h1.1v1.1h-1.1zM795.7 300.9h1.1v1.1h-1.1zM805.7 302.3h1.1v1.1h-1.1zM814.5 300.1h1.1v1.1h-1.1zM841.6 299.4h1.1v1.1h-1.1zM859.0 305.4h1.1v1.1h-1.1zM863.9 300.5h1.1v1.1h-1.1zM892.7 304.5h1.1v1.1h-1.1zM659.9 307.2h1.1v1.1h-1.1zM665.6 311.9h1.1v1.1h-1.1zM674.6 308.9h1.1v1.1h-1.1zM683.0 312.1h1.1v1.1h-1.1zM697.0 310.3h1.1v1.1h-1.1zM703.3 311.9h1.1v1.1h-1.1zM704.5 311.3h1.1v1.1h-1.1zM715.8 311.6h1.1v1.1h-1.1zM722.1 310.5h1.1v1.1h-1.1zM730.0 307.9h1.1v1.1h-1.1zM731.6 311.1h1.1v1.1h-1.1zM739.8 306.0h1.1v1.1h-1.1zM754.0 306.4h1.1v1.1h-1.1zM758.0 307.0h1.1v1.1h-1.1zM768.1 306.6h1.1v1.1h-1.1zM783.0 309.3h1.1v1.1h-1.1zM786.6 305.9h1.1v1.1h-1.1zM795.9 311.8h1.1v1.1h-1.1zM807.1 310.8h1.1v1.1h-1.1zM810.7 307.6h1.1v1.1h-1.1zM827.0 312.2h1.1v1.1h-1.1zM830.9 306.8h1.1v1.1h-1.1zM836.5 308.0h1.1v1.1h-1.1zM846.0 308.0h1.1v1.1h-1.1zM850.6 311.0h1.1v1.1h-1.1zM861.3 310.6h1.1v1.1h-1.1zM863.2 309.4h1.1v1.1h-1.1zM876.1 309.6h1.1v1.1h-1.1zM659.1 318.6h1.1v1.1h-1.1zM664.6 316.7h1.1v1.1h-1.1zM683.6 313.2h1.1v1.1h-1.1zM686.2 316.0h1.1v1.1h-1.1zM697.9 314.1h1.1v1.1h-1.1zM706.1 316.1h1.1v1.1h-1.1zM734.4 316.9h1.1v1.1h-1.1zM737.8 313.5h1.1v1.1h-1.1zM757.6 316.2h1.1v1.1h-1.1zM774.9 312.8h1.1v1.1h-1.1zM801.9 315.4h1.1v1.1h-1.1zM803.3 318.6h1.1v1.1h-1.1zM815.0 312.6h1.1v1.1h-1.1zM817.4 315.8h1.1v1.1h-1.1zM824.0 314.7h1.1v1.1h-1.1zM848.0 315.6h1.1v1.1h-1.1zM861.0 316.6h1.1v1.1h-1.1zM868.3 312.7h1.1v1.1h-1.1zM882.2 316.2h1.1v1.1h-1.1zM886.8 317.3h1.1v1.1h-1.1zM890.7 317.0h1.1v1.1h-1.1zM676.4 324.7h1.1v1.1h-1.1zM690.6 319.8h1.1v1.1h-1.1zM696.0 324.6h1.1v1.1h-1.1zM698.9 322.0h1.1v1.1h-1.1zM729.1 321.3h1.1v1.1h-1.1zM747.7 324.5h1.1v1.1h-1.1zM763.3 324.8h1.1v1.1h-1.1zM766.4 323.0h1.1v1.1h-1.1zM783.6 321.2h1.1v1.1h-1.1zM791.2 324.9h1.1v1.1h-1.1zM804.6 323.1h1.1v1.1h-1.1zM815.2 320.2h1.1v1.1h-1.1zM818.6 320.0h1.1v1.1h-1.1zM835.4 325.3h1.1v1.1h-1.1zM848.0 323.0h1.1v1.1h-1.1zM852.0 319.1h1.1v1.1h-1.1zM867.9 320.7h1.1v1.1h-1.1zM881.5 322.4h1.1v1.1h-1.1zM883.3 324.0h1.1v1.1h-1.1zM897.8 320.8h1.1v1.1h-1.1zM671.6 329.9h1.1v1.1h-1.1zM707.2 331.9h1.1v1.1h-1.1zM711.7 331.9h1.1v1.1h-1.1zM727.4 332.2h1.1v1.1h-1.1zM735.5 329.8h1.1v1.1h-1.1zM744.0 329.2h1.1v1.1h-1.1zM766.0 331.6h1.1v1.1h-1.1zM782.0 327.9h1.1v1.1h-1.1zM791.1 330.5h1.1v1.1h-1.1zM805.2 328.1h1.1v1.1h-1.1zM816.2 326.8h1.1v1.1h-1.1zM834.1 328.0h1.1v1.1h-1.1zM838.7 332.0h1.1v1.1h-1.1zM863.6 330.6h1.1v1.1h-1.1zM873.6 331.2h1.1v1.1h-1.1zM880.8 327.4h1.1v1.1h-1.1zM887.1 328.2h1.1v1.1h-1.1zM894.6 326.4h1.1v1.1h-1.1zM663.5 335.9h1.1v1.1h-1.1zM668.6 334.6h1.1v1.1h-1.1zM682.8 336.7h1.1v1.1h-1.1zM689.9 336.9h1.1v1.1h-1.1zM701.8 336.8h1.1v1.1h-1.1zM716.3 334.8h1.1v1.1h-1.1zM722.7 334.5h1.1v1.1h-1.1zM734.0 336.6h1.1v1.1h-1.1zM765.4 337.8h1.1v1.1h-1.1zM771.2 336.6h1.1v1.1h-1.1zM837.0 338.5h1.1v1.1h-1.1zM842.8 336.4h1.1v1.1h-1.1zM852.3 335.5h1.1v1.1h-1.1zM872.4 334.1h1.1v1.1h-1.1zM882.2 335.7h1.1v1.1h-1.1zM883.8 337.4h1.1v1.1h-1.1zM696.3 345.1h1.1v1.1h-1.1zM707.4 339.7h1.1v1.1h-1.1zM720.4 341.1h1.1v1.1h-1.1zM724.7 339.9h1.1v1.1h-1.1zM748.7 343.9h1.1v1.1h-1.1zM754.1 343.4h1.1v1.1h-1.1zM781.6 343.0h1.1v1.1h-1.1zM794.2 345.3h1.1v1.1h-1.1zM822.1 341.2h1.1v1.1h-1.1zM826.2 339.3h1.1v1.1h-1.1zM834.8 341.9h1.1v1.1h-1.1zM841.8 342.3h1.1v1.1h-1.1zM846.2 340.2h1.1v1.1h-1.1zM853.7 345.0h1.1v1.1h-1.1zM865.5 343.6h1.1v1.1h-1.1zM870.3 344.7h1.1v1.1h-1.1zM876.7 338.9h1.1v1.1h-1.1zM683.8 345.4h1.1v1.1h-1.1zM691.6 351.2h1.1v1.1h-1.1zM714.6 350.1h1.1v1.1h-1.1zM730.5 350.1h1.1v1.1h-1.1zM735.2 348.5h1.1v1.1h-1.1zM738.0 348.7h1.1v1.1h-1.1zM744.2 347.0h1.1v1.1h-1.1zM767.9 347.0h1.1v1.1h-1.1zM779.5 351.6h1.1v1.1h-1.1zM794.2 351.5h1.1v1.1h-1.1zM796.9 348.5h1.1v1.1h-1.1zM826.4 351.7h1.1v1.1h-1.1zM870.4 348.7h1.1v1.1h-1.1zM665.2 353.8h1.1v1.1h-1.1zM681.6 354.2h1.1v1.1h-1.1zM695.5 357.1h1.1v1.1h-1.1zM701.0 355.0h1.1v1.1h-1.1zM710.3 355.8h1.1v1.1h-1.1zM728.8 356.4h1.1v1.1h-1.1zM738.4 358.2h1.1v1.1h-1.1zM745.5 352.9h1.1v1.1h-1.1zM756.0 352.2h1.1v1.1h-1.1zM775.7 358.6h1.1v1.1h-1.1zM778.6 353.6h1.1v1.1h-1.1zM795.8 358.1h1.1v1.1h-1.1zM796.6 357.1h1.1v1.1h-1.1zM810.9 352.2h1.1v1.1h-1.1zM826.5 358.4h1.1v1.1h-1.1zM839.8 358.2h1.1v1.1h-1.1zM850.0 353.4h1.1v1.1h-1.1zM864.3 356.7h1.1v1.1h-1.1zM873.2 356.1h1.1v1.1h-1.1zM880.4 356.9h1.1v1.1h-1.1zM668.5 363.2h1.1v1.1h-1.1zM677.9 361.0h1.1v1.1h-1.1zM697.4 363.1h1.1v1.1h-1.1zM723.2 364.3h1.1v1.1h-1.1zM746.0 362.7h1.1v1.1h-1.1zM761.4 360.7h1.1v1.1h-1.1zM775.7 359.0h1.1v1.1h-1.1zM781.1 362.4h1.1v1.1h-1.1zM783.8 360.6h1.1v1.1h-1.1zM795.6 359.5h1.1v1.1h-1.1zM799.0 363.4h1.1v1.1h-1.1zM805.6 363.5h1.1v1.1h-1.1zM822.2 364.6h1.1v1.1h-1.1zM831.1 359.9h1.1v1.1h-1.1zM841.2 364.2h1.1v1.1h-1.1zM849.7 363.0h1.1v1.1h-1.1zM857.5 358.8h1.1v1.1h-1.1zM879.0 364.7h1.1v1.1h-1.1zM885.2 359.0h1.1v1.1h-1.1zM889.4 361.0h1.1v1.1h-1.1zM666.0 369.2h1.1v1.1h-1.1zM694.2 368.3h1.1v1.1h-1.1zM702.8 366.1h1.1v1.1h-1.1zM708.4 365.8h1.1v1.1h-1.1zM722.0 368.3h1.1v1.1h-1.1zM754.4 369.5h1.1v1.1h-1.1zM759.6 371.1h1.1v1.1h-1.1zM768.5 370.9h1.1v1.1h-1.1zM791.9 371.6h1.1v1.1h-1.1zM798.6 367.3h1.1v1.1h-1.1zM810.9 367.6h1.1v1.1h-1.1zM836.1 369.3h1.1v1.1h-1.1zM837.5 368.3h1.1v1.1h-1.1zM849.4 368.2h1.1v1.1h-1.1zM867.3 369.0h1.1v1.1h-1.1zM870.8 370.7h1.1v1.1h-1.1zM879.8 366.9h1.1v1.1h-1.1zM885.5 368.8h1.1v1.1h-1.1zM897.4 367.9h1.1v1.1h-1.1zM664.6 372.7h1.1v1.1h-1.1zM670.5 372.2h1.1v1.1h-1.1zM674.0 372.3h1.1v1.1h-1.1zM692.8 378.0h1.1v1.1h-1.1zM712.7 378.2h1.1v1.1h-1.1zM720.2 375.3h1.1v1.1h-1.1zM734.4 374.7h1.1v1.1h-1.1zM741.5 375.7h1.1v1.1h-1.1zM749.7 378.2h1.1v1.1h-1.1zM753.3 375.7h1.1v1.1h-1.1zM769.9 376.0h1.1v1.1h-1.1zM792.2 377.9h1.1v1.1h-1.1zM809.5 377.7h1.1v1.1h-1.1zM816.1 377.0h1.1v1.1h-1.1zM822.9 372.4h1.1v1.1h-1.1zM826.6 374.4h1.1v1.1h-1.1zM840.9 374.3h1.1v1.1h-1.1zM847.9 372.6h1.1v1.1h-1.1zM856.2 372.7h1.1v1.1h-1.1zM866.7 376.1h1.1v1.1h-1.1zM879.4 374.1h1.1v1.1h-1.1zM889.1 376.3h1.1v1.1h-1.1zM677.6 379.7h1.1v1.1h-1.1zM701.1 383.2h1.1v1.1h-1.1zM704.4 383.7h1.1v1.1h-1.1zM711.4 380.0h1.1v1.1h-1.1zM731.4 384.6h1.1v1.1h-1.1zM763.1 380.1h1.1v1.1h-1.1zM779.0 381.7h1.1v1.1h-1.1zM804.7 383.7h1.1v1.1h-1.1zM810.4 382.3h1.1v1.1h-1.1zM821.6 381.4h1.1v1.1h-1.1zM835.0 381.5h1.1v1.1h-1.1zM844.2 383.9h1.1v1.1h-1.1zM851.0 380.1h1.1v1.1h-1.1zM862.8 383.2h1.1v1.1h-1.1zM880.4 382.5h1.1v1.1h-1.1zM662.7 391.3h1.1v1.1h-1.1zM667.2 388.5h1.1v1.1h-1.1zM679.7 387.1h1.1v1.1h-1.1zM685.4 391.1h1.1v1.1h-1.1zM702.8 389.7h1.1v1.1h-1.1zM708.7 388.1h1.1v1.1h-1.1zM725.7 389.4h1.1v1.1h-1.1zM746.7 391.1h1.1v1.1h-1.1zM754.5 385.7h1.1v1.1h-1.1zM757.6 391.1h1.1v1.1h-1.1zM803.0 385.3h1.1v1.1h-1.1zM810.5 385.5h1.1v1.1h-1.1zM821.8 389.0h1.1v1.1h-1.1zM824.1 386.1h1.1v1.1h-1.1zM834.3 387.4h1.1v1.1h-1.1zM855.4 388.1h1.1v1.1h-1.1zM860.0 386.9h1.1v1.1h-1.1zM865.2 386.3h1.1v1.1h-1.1zM874.1 391.0h1.1v1.1h-1.1zM876.5 390.4h1.1v1.1h-1.1zM892.1 391.5h1.1v1.1h-1.1zM660.1 396.4h1.1v1.1h-1.1zM680.1 396.8h1.1v1.1h-1.1zM688.4 397.5h1.1v1.1h-1.1zM692.5 393.7h1.1v1.1h-1.1zM738.3 392.6h1.1v1.1h-1.1zM745.5 395.9h1.1v1.1h-1.1zM753.3 393.6h1.1v1.1h-1.1zM765.9 397.2h1.1v1.1h-1.1zM788.6 397.2h1.1v1.1h-1.1zM796.2 394.7h1.1v1.1h-1.1zM801.8 397.3h1.1v1.1h-1.1zM822.4 391.8h1.1v1.1h-1.1zM838.9 396.9h1.1v1.1h-1.1zM861.5 396.5h1.1v1.1h-1.1zM667.5 402.9h1.1v1.1h-1.1zM677.8 399.4h1.1v1.1h-1.1zM683.2 403.4h1.1v1.1h-1.1zM704.7 401.0h1.1v1.1h-1.1zM776.5 401.6h1.1v1.1h-1.1zM786.3 398.4h1.1v1.1h-1.1zM794.0 399.9h1.1v1.1h-1.1zM815.1 404.2h1.1v1.1h-1.1zM821.3 399.8h1.1v1.1h-1.1zM824.5 403.6h1.1v1.1h-1.1zM833.6 404.2h1.1v1.1h-1.1zM850.8 403.7h1.1v1.1h-1.1zM875.1 401.9h1.1v1.1h-1.1zM883.8 401.8h1.1v1.1h-1.1zM894.1 399.8h1.1v1.1h-1.1zM897.1 403.9h1.1v1.1h-1.1zM662.1 406.8h1.1v1.1h-1.1zM668.8 407.7h1.1v1.1h-1.1zM679.8 407.6h1.1v1.1h-1.1zM689.5 408.7h1.1v1.1h-1.1zM697.2 407.9h1.1v1.1h-1.1zM719.7 407.6h1.1v1.1h-1.1zM756.5 407.5h1.1v1.1h-1.1zM771.2 407.2h1.1v1.1h-1.1zM784.8 410.1h1.1v1.1h-1.1zM793.6 407.5h1.1v1.1h-1.1zM807.3 410.1h1.1v1.1h-1.1zM818.7 408.3h1.1v1.1h-1.1zM827.2 407.9h1.1v1.1h-1.1zM841.4 406.5h1.1v1.1h-1.1zM853.0 406.6h1.1v1.1h-1.1zM865.1 405.3h1.1v1.1h-1.1zM869.6 410.1h1.1v1.1h-1.1zM877.9 406.2h1.1v1.1h-1.1zM895.0 405.5h1.1v1.1h-1.1zM658.6 417.5h1.1v1.1h-1.1zM670.1 411.7h1.1v1.1h-1.1zM682.0 416.1h1.1v1.1h-1.1zM730.5 414.3h1.1v1.1h-1.1zM733.3 414.3h1.1v1.1h-1.1zM749.7 412.5h1.1v1.1h-1.1zM775.4 415.2h1.1v1.1h-1.1zM785.6 414.0h1.1v1.1h-1.1zM819.8 411.4h1.1v1.1h-1.1zM832.1 415.8h1.1v1.1h-1.1zM843.9 417.3h1.1v1.1h-1.1zM870.9 415.4h1.1v1.1h-1.1zM879.6 415.0h1.1v1.1h-1.1zM888.1 417.9h1.1v1.1h-1.1zM895.1 416.4h1.1v1.1h-1.1zM675.1 418.9h1.1v1.1h-1.1zM679.6 418.8h1.1v1.1h-1.1zM687.3 422.8h1.1v1.1h-1.1zM691.5 421.0h1.1v1.1h-1.1zM706.2 418.4h1.1v1.1h-1.1zM723.6 424.6h1.1v1.1h-1.1zM735.6 421.0h1.1v1.1h-1.1zM739.8 424.3h1.1v1.1h-1.1zM750.1 418.3h1.1v1.1h-1.1zM769.8 420.3h1.1v1.1h-1.1zM814.1 423.5h1.1v1.1h-1.1zM818.6 419.1h1.1v1.1h-1.1zM826.1 423.2h1.1v1.1h-1.1zM831.3 418.4h1.1v1.1h-1.1zM847.0 421.5h1.1v1.1h-1.1zM850.8 420.7h1.1v1.1h-1.1zM865.1 422.3h1.1v1.1h-1.1zM874.6 424.3h1.1v1.1h-1.1zM884.5 423.9h1.1v1.1h-1.1zM894.9 421.1h1.1v1.1h-1.1zM661.3 431.0h1.1v1.1h-1.1zM665.7 430.4h1.1v1.1h-1.1zM673.7 425.3h1.1v1.1h-1.1zM681.1 426.5h1.1v1.1h-1.1zM686.9 428.2h1.1v1.1h-1.1zM696.1 426.7h1.1v1.1h-1.1zM768.1 430.7h1.1v1.1h-1.1zM794.6 428.0h1.1v1.1h-1.1zM802.6 428.5h1.1v1.1h-1.1zM803.3 425.9h1.1v1.1h-1.1zM815.8 426.1h1.1v1.1h-1.1zM826.4 426.7h1.1v1.1h-1.1zM840.1 429.2h1.1v1.1h-1.1zM843.5 429.5h1.1v1.1h-1.1zM871.7 427.1h1.1v1.1h-1.1zM879.4 427.0h1.1v1.1h-1.1zM884.1 425.5h1.1v1.1h-1.1zM658.6 434.5h1.1v1.1h-1.1zM679.4 436.6h1.1v1.1h-1.1zM726.2 431.7h1.1v1.1h-1.1zM731.1 436.3h1.1v1.1h-1.1zM738.8 432.2h1.1v1.1h-1.1zM755.1 434.0h1.1v1.1h-1.1zM788.3 432.5h1.1v1.1h-1.1zM791.1 435.6h1.1v1.1h-1.1zM798.3 434.2h1.1v1.1h-1.1zM809.2 431.2h1.1v1.1h-1.1zM814.2 431.9h1.1v1.1h-1.1zM817.0 435.7h1.1v1.1h-1.1zM831.8 431.5h1.1v1.1h-1.1zM840.7 434.0h1.1v1.1h-1.1zM843.4 431.6h1.1v1.1h-1.1zM858.5 435.7h1.1v1.1h-1.1zM863.9 435.6h1.1v1.1h-1.1zM882.0 436.6h1.1v1.1h-1.1zM883.2 431.6h1.1v1.1h-1.1zM672.7 444.1h1.1v1.1h-1.1zM680.1 442.4h1.1v1.1h-1.1zM687.1 443.3h1.1v1.1h-1.1zM698.5 441.4h1.1v1.1h-1.1zM709.9 442.0h1.1v1.1h-1.1zM725.5 438.8h1.1v1.1h-1.1zM758.3 441.2h1.1v1.1h-1.1zM768.4 438.6h1.1v1.1h-1.1zM773.6 441.7h1.1v1.1h-1.1zM780.9 442.2h1.1v1.1h-1.1zM793.9 438.1h1.1v1.1h-1.1zM806.1 440.3h1.1v1.1h-1.1zM820.0 441.4h1.1v1.1h-1.1zM825.7 442.5h1.1v1.1h-1.1zM832.8 442.6h1.1v1.1h-1.1zM844.8 440.2h1.1v1.1h-1.1zM854.2 439.2h1.1v1.1h-1.1zM869.3 441.4h1.1v1.1h-1.1zM885.9 442.2h1.1v1.1h-1.1zM894.3 439.3h1.1v1.1h-1.1zM667.0 446.2h1.1v1.1h-1.1zM671.5 445.3h1.1v1.1h-1.1zM683.4 450.1h1.1v1.1h-1.1zM686.3 445.4h1.1v1.1h-1.1zM697.4 445.6h1.1v1.1h-1.1zM709.8 446.6h1.1v1.1h-1.1zM716.7 447.2h1.1v1.1h-1.1zM724.8 450.4h1.1v1.1h-1.1zM734.0 451.0h1.1v1.1h-1.1zM743.7 447.0h1.1v1.1h-1.1zM746.3 444.5h1.1v1.1h-1.1zM751.2 446.5h1.1v1.1h-1.1zM761.5 448.5h1.1v1.1h-1.1zM774.2 446.3h1.1v1.1h-1.1zM781.5 450.0h1.1v1.1h-1.1zM803.8 447.4h1.1v1.1h-1.1zM811.2 446.5h1.1v1.1h-1.1zM822.4 444.5h1.1v1.1h-1.1zM823.8 450.9h1.1v1.1h-1.1zM833.9 447.2h1.1v1.1h-1.1zM846.2 448.0h1.1v1.1h-1.1zM851.2 449.5h1.1v1.1h-1.1zM870.4 448.4h1.1v1.1h-1.1zM665.8 451.0h1.1v1.1h-1.1zM685.5 454.4h1.1v1.1h-1.1zM699.0 456.8h1.1v1.1h-1.1zM739.4 453.8h1.1v1.1h-1.1zM751.7 454.5h1.1v1.1h-1.1zM766.6 456.5h1.1v1.1h-1.1zM775.6 451.4h1.1v1.1h-1.1zM793.1 452.3h1.1v1.1h-1.1zM797.0 452.2h1.1v1.1h-1.1zM804.9 455.3h1.1v1.1h-1.1zM833.7 451.9h1.1v1.1h-1.1zM848.0 457.2h1.1v1.1h-1.1zM853.8 455.9h1.1v1.1h-1.1zM859.7 456.0h1.1v1.1h-1.1zM865.9 454.6h1.1v1.1h-1.1zM658.2 461.7h1.1v1.1h-1.1zM674.2 459.2h1.1v1.1h-1.1zM679.1 463.5h1.1v1.1h-1.1zM688.4 458.5h1.1v1.1h-1.1zM716.8 463.3h1.1v1.1h-1.1zM740.8 461.6h1.1v1.1h-1.1zM746.3 461.2h1.1v1.1h-1.1zM755.6 460.6h1.1v1.1h-1.1zM763.2 459.1h1.1v1.1h-1.1zM768.5 463.1h1.1v1.1h-1.1zM778.3 459.0h1.1v1.1h-1.1zM786.4 459.9h1.1v1.1h-1.1zM801.9 462.3h1.1v1.1h-1.1zM815.8 463.8h1.1v1.1h-1.1zM819.9 458.6h1.1v1.1h-1.1zM826.1 460.9h1.1v1.1h-1.1zM841.6 458.2h1.1v1.1h-1.1zM845.1 458.4h1.1v1.1h-1.1zM851.9 461.4h1.1v1.1h-1.1zM858.1 462.9h1.1v1.1h-1.1zM872.8 461.3h1.1v1.1h-1.1zM663.6 465.2h1.1v1.1h-1.1zM668.0 465.2h1.1v1.1h-1.1zM675.5 467.1h1.1v1.1h-1.1zM700.8 464.9h1.1v1.1h-1.1zM714.6 467.8h1.1v1.1h-1.1zM744.8 466.2h1.1v1.1h-1.1zM764.9 465.6h1.1v1.1h-1.1zM771.9 464.8h1.1v1.1h-1.1zM778.0 464.2h1.1v1.1h-1.1zM797.4 469.1h1.1v1.1h-1.1zM807.8 469.4h1.1v1.1h-1.1zM811.2 464.4h1.1v1.1h-1.1zM819.1 470.3h1.1v1.1h-1.1zM835.9 467.6h1.1v1.1h-1.1zM848.3 467.3h1.1v1.1h-1.1zM854.9 470.2h1.1v1.1h-1.1zM857.4 464.5h1.1v1.1h-1.1zM865.6 468.0h1.1v1.1h-1.1zM876.3 466.6h1.1v1.1h-1.1zM892.2 465.2h1.1v1.1h-1.1zM673.8 470.8h1.1v1.1h-1.1zM698.1 471.1h1.1v1.1h-1.1zM772.7 472.1h1.1v1.1h-1.1zM800.9 472.5h1.1v1.1h-1.1zM817.5 471.8h1.1v1.1h-1.1zM896.1 472.7h1.1v1.1h-1.1z" fill="#808080"/>
<path d="M660.1 89.0h1.1v1.1h-1.1zM673.6 88.4h1.1v1.1h-1.1zM720.2 91.6h1.1v1.1h-1.1zM765.6 93.2h1.1v1.1h-1.1zM780.3 93.8h1.1v1.1h-1.1zM809.5 88.5h1.1v1.1h-1.1zM835.8 91.1h1.1v1.1h-1.1zM851.3 90.5h1.1v1.1h-1.1zM870.6 89.9h1.1v1.1h-1.1zM882.9 91.0h1.1v1.1h-1.1zM686.3 95.6h1.1v1.1h-1.1zM702.2 98.0h1.1v1.1h-1.1zM716.7 99.7h1.1v1.1h-1.1zM740.1 95.3h1.1v1.1h-1.1zM753.9 100.9h1.1v1.1h-1.1zM757.2 100.4h1.1v1.1h-1.1zM799.8 99.2h1.1v1.1h-1.1zM803.4 100.9h1.1v1.1h-1.1zM821.4 96.6h1.1v1.1h-1.1zM841.3 98.1h1.1v1.1h-1.1zM854.7 100.0h1.1v1.1h-1.1zM659.3 105.3h1.1v1.1h-1.1zM670.1 104.4h1.1v1.1h-1.1zM673.5 105.4h1.1v1.1h-1.1zM678.6 103.8h1.1v1.1h-1.1zM729.3 102.2h1.1v1.1h-1.1zM743.9 107.6h1.1v1.1h-1.1zM763.8 102.6h1.1v1.1h-1.1zM794.4 106.6h1.1v1.1h-1.1zM799.4 107.3h1.1v1.1h-1.1zM804.1 102.2h1.1v1.1h-1.1zM824.1 104.3h1.1v1.1h-1.1zM830.4 101.6h1.1v1.1h-1.1zM851.2 106.3h1.1v1.1h-1.1zM865.5 105.2h1.1v1.1h-1.1zM885.8 102.8h1.1v1.1h-1.1zM710.0 108.9h1.1v1.1h-1.1zM725.3 109.9h1.1v1.1h-1.1zM786.1 111.3h1.1v1.1h-1.1zM840.3 108.1h1.1v1.1h-1.1zM876.0 107.9h1.1v1.1h-1.1zM890.6 110.8h1.1v1.1h-1.1zM677.7 116.7h1.1v1.1h-1.1zM700.4 114.8h1.1v1.1h-1.1zM709.8 120.1h1.1v1.1h-1.1zM717.2 118.4h1.1v1.1h-1.1zM736.9 120.8h1.1v1.1h-1.1zM752.9 117.5h1.1v1.1h-1.1zM794.3 119.1h1.1v1.1h-1.1zM804.2 119.2h1.1v1.1h-1.1zM810.8 119.8h1.1v1.1h-1.1zM822.3 118.5h1.1v1.1h-1.1zM827.6 117.7h1.1v1.1h-1.1zM841.7 118.3h1.1v1.1h-1.1zM850.0 114.7h1.1v1.1h-1.1zM866.3 118.5h1.1v1.1h-1.1zM875.8 119.7h1.1v1.1h-1.1zM893.4 114.8h1.1v1.1h-1.1zM695.0 123.2h1.1v1.1h-1.1zM702.5 123.0h1.1v1.1h-1.1zM712.6 125.4h1.1v1.1h-1.1zM718.8 124.2h1.1v1.1h-1.1zM735.7 127.6h1.1v1.1h-1.1zM743.9 124.0h1.1v1.1h-1.1zM764.1 121.6h1.1v1.1h-1.1zM807.7 123.7h1.1v1.1h-1.1zM843.2 123.6h1.1v1.1h-1.1zM870.8 122.8h1.1v1.1h-1.1zM888.2 126.4h1.1v1.1h-1.1zM891.6 126.8h1.1v1.1h-1.1zM674.4 133.6h1.1v1.1h-1.1zM686.3 129.3h1.1v1.1h-1.1zM697.4 129.3h1.1v1.1h-1.1zM699.2 130.8h1.1v1.1h-1.1zM777.6 130.9h1.1v1.1h-1.1zM825.6 133.7h1.1v1.1h-1.1zM846.2 132.1h1.1v1.1h-1.1zM898.2 129.1h1.1v1.1h-1.1zM678.0 136.9h1.1v1.1h-1.1zM718.7 139.5h1.1v1.1h-1.1zM744.5 138.3h1.1v1.1h-1.1zM763.0 134.6h1.1v1.1h-1.1zM798.8 135.4h1.1v1.1h-1.1zM808.1 134.4h1.1v1.1h-1.1zM862.8 136.9h1.1v1.1h-1.1zM884.1 139.1h1.1v1.1h-1.1zM891.2 136.0h1.1v1.1h-1.1zM895.9 139.1h1.1v1.1h-1.1zM669.4 144.7h1.1v1.1h-1.1zM703.7 142.0h1.1v1.1h-1.1zM720.4 146.0h1.1v1.1h-1.1zM774.3 145.2h1.1v1.1h-1.1zM793.7 143.3h1.1v1.1h-1.1zM804.8 141.8h1.1v1.1h-1.1zM850.9 141.1h1.1v1.1h-1.1zM873.2 145.9h1.1v1.1h-1.1zM882.0 141.5h1.1v1.1h-1.1zM695.4 148.4h1.1v1.1h-1.1zM698.2 148.5h1.1v1.1h-1.1zM706.0 153.9h1.1v1.1h-1.1zM774.0 153.5h1.1v1.1h-1.1zM827.2 153.1h1.1v1.1h-1.1zM850.2 149.0h1.1v1.1h-1.1zM861.4 148.7h1.1v1.1h-1.1zM868.2 151.8h1.1v1.1h-1.1zM874.7 148.2h1.1v1.1h-1.1zM686.8 159.3h1.1v1.1h-1.1zM694.4 154.3h1.1v1.1h-1.1zM715.8 159.9h1.1v1.1h-1.1zM808.4 155.7h1.1v1.1h-1.1zM866.8 160.5h1.1v1.1h-1.1zM875.3 159.9h1.1v1.1h-1.1zM658.3 161.0h1.1v1.1h-1.1zM681.7 161.9h1.1v1.1h-1.1zM727.9 164.4h1.1v1.1h-1.1zM764.5 161.9h1.1v1.1h-1.1zM783.8 164.7h1.1v1.1h-1.1zM820.7 161.4h1.1v1.1h-1.1zM834.3 162.4h1.1v1.1h-1.1zM840.7 165.1h1.1v1.1h-1.1zM857.7 162.2h1.1v1.1h-1.1zM870.5 163.2h1.1v1.1h-1.1zM877.4 166.6h1.1v1.1h-1.1zM888.5 167.1h1.1v1.1h-1.1zM892.1 166.1h1.1v1.1h-1.1zM895.6 160.8h1.1v1.1h-1.1zM667.2 171.1h1.1v1.1h-1.1zM691.2 168.1h1.1v1.1h-1.1zM701.8 171.8h1.1v1.1h-1.1zM712.1 173.5h1.1v1.1h-1.1zM723.3 167.6h1.1v1.1h-1.1zM731.9 167.4h1.1v1.1h-1.1zM737.8 172.2h1.1v1.1h-1.1zM795.2 167.4h1.1v1.1h-1.1zM801.7 169.5h1.1v1.1h-1.1zM803.5 170.9h1.1v1.1h-1.1zM846.7 173.5h1.1v1.1h-1.1zM865.9 167.9h1.1v1.1h-1.1zM874.3 170.4h1.1v1.1h-1.1zM659.4 175.5h1.1v1.1h-1.1zM667.9 176.3h1.1v1.1h-1.1zM672.7 176.8h1.1v1.1h-1.1zM681.7 178.3h1.1v1.1h-1.1zM721.6 178.4h1.1v1.1h-1.1zM725.3 175.8h1.1v1.1h-1.1zM736.1 177.9h1.1v1.1h-1.1zM752.6 175.0h1.1v1.1h-1.1zM763.6 174.9h1.1v1.1h-1.1zM801.2 177.1h1.1v1.1h-1.1zM813.8 176.5h1.1v1.1h-1.1zM818.0 179.4h1.1v1.1h-1.1zM835.2 178.2h1.1v1.1h-1.1zM842.0 178.9h1.1v1.1h-1.1zM864.2 176.4h1.1v1.1h-1.1zM674.6 181.1h1.1v1.1h-1.1zM707.6 186.6h1.1v1.1h-1.1zM734.7 184.9h1.1v1.1h-1.1zM739.0 181.9h1.1v1.1h-1.1zM786.5 182.3h1.1v1.1h-1.1zM814.3 183.6h1.1v1.1h-1.1zM821.7 182.8h1.1v1.1h-1.1zM894.2 181.5h1.1v1.1h-1.1zM662.4 192.9h1.1v1.1h-1.1zM670.1 188.3h1.1v1.1h-1.1zM705.8 188.1h1.1v1.1h-1.1zM720.5 190.7h1.1v1.1h-1.1zM738.4 189.4h1.1v1.1h-1.1zM744.0 191.0h1.1v1.1h-1.1zM763.8 191.7h1.1v1.1h-1.1zM771.0 187.6h1.1v1.1h-1.1zM779.2 190.1h1.1v1.1h-1.1zM792.9 189.8h1.1v1.1h-1.1zM808.7 189.7h1.1v1.1h-1.1zM841.4 187.3h1.1v1.1h-1.1zM846.5 189.7h1.1v1.1h-1.1zM866.6 191.3h1.1v1.1h-1.1zM875.2 191.0h1.1v1.1h-1.1zM876.8 191.4h1.1v1.1h-1.1zM889.3 191.2h1.1v1.1h-1.1zM709.3 196.4h1.1v1.1h-1.1zM721.9 197.5h1.1v1.1h-1.1zM746.6 193.7h1.1v1.1h-1.1zM779.2 198.5h1.1v1.1h-1.1zM809.9 193.7h1.1v1.1h-1.1zM835.9 199.1h1.1v1.1h-1.1zM836.6 196.0h1.1v1.1h-1.1zM875.4 198.8h1.1v1.1h-1.1zM878.0 195.4h1.1v1.1h-1.1zM888.8 198.2h1.1v1.1h-1.1zM667.1 204.7h1.1v1.1h-1.1zM692.9 201.1h1.1v1.1h-1.1zM698.6 206.6h1.1v1.1h-1.1zM722.7 201.5h1.1v1.1h-1.1zM730.1 201.7h1.1v1.1h-1.1zM731.0 202.8h1.1v1.1h-1.1zM778.1 201.4h1.1v1.1h-1.1zM805.7 200.9h1.1v1.1h-1.1zM820.3 202.5h1.1v1.1h-1.1zM845.6 206.4h1.1v1.1h-1.1zM696.5 207.1h1.1v1.1h-1.1zM721.3 209.7h1.1v1.1h-1.1zM769.8 212.5h1.1v1.1h-1.1zM885.1 207.9h1.1v1.1h-1.1zM895.5 207.8h1.1v1.1h-1.1zM661.4 216.3h1.1v1.1h-1.1zM677.2 214.8h1.1v1.1h-1.1zM679.0 219.0h1.1v1.1h-1.1zM695.0 218.9h1.1v1.1h-1.1zM705.6 217.4h1.1v1.1h-1.1zM718.7 213.8h1.1v1.1h-1.1zM763.8 218.0h1.1v1.1h-1.1zM774.1 213.4h1.1v1.1h-1.1zM795.1 219.1h1.1v1.1h-1.1zM809.5 216.7h1.1v1.1h-1.1zM836.3 219.5h1.1v1.1h-1.1zM844.1 213.5h1.1v1.1h-1.1zM890.0 217.2h1.1v1.1h-1.1zM689.1 225.6h1.1v1.1h-1.1zM703.2 220.4h1.1v1.1h-1.1zM712.4 222.8h1.1v1.1h-1.1zM724.5 222.9h1.1v1.1h-1.1zM763.1 224.1h1.1v1.1h-1.1zM767.2 226.1h1.1v1.1h-1.1zM790.8 223.9h1.1v1.1h-1.1zM802.5 220.6h1.1v1.1h-1.1zM820.2 221.8h1.1v1.1h-1.1zM833.6 223.8h1.1v1.1h-1.1zM845.8 223.6h1.1v1.1h-1.1zM857.6 221.5h1.1v1.1h-1.1zM889.4 220.1h1.1v1.1h-1.1zM666.9 231.6h1.1v1.1h-1.1zM672.7 232.9h1.1v1.1h-1.1zM684.0 229.4h1.1v1.1h-1.1zM686.7 231.1h1.1v1.1h-1.1zM695.0 228.4h1.1v1.1h-1.1zM706.0 230.8h1.1v1.1h-1.1zM717.4 231.7h1.1v1.1h-1.1zM724.8 229.2h1.1v1.1h-1.1zM760.5 230.5h1.1v1.1h-1.1zM772.7 228.6h1.1v1.1h-1.1zM778.8 227.6h1.1v1.1h-1.1zM826.6 233.2h1.1v1.1h-1.1zM838.8 229.0h1.1v1.1h-1.1zM858.7 229.9h1.1v1.1h-1.1zM880.9 232.5h1.1v1.1h-1.1zM658.7 239.1h1.1v1.1h-1.1zM666.9 239.4h1.1v1.1h-1.1zM699.9 239.8h1.1v1.1h-1.1zM716.0 235.2h1.1v1.1h-1.1zM729.6 237.1h1.1v1.1h-1.1zM730.8 234.4h1.1v1.1h-1.1zM740.9 238.9h1.1v1.1h-1.1zM764.3 234.3h1.1v1.1h-1.1zM796.8 237.3h1.1v1.1h-1.1zM803.6 234.5h1.1v1.1h-1.1zM855.9 233.6h1.1v1.1h-1.1zM865.3 235.8h1.1v1.1h-1.1zM667.4 245.8h1.1v1.1h-1.1zM711.9 242.1h1.1v1.1h-1.1zM720.1 244.0h1.1v1.1h-1.1zM725.4 246.1h1.1v1.1h-1.1zM731.9 245.5h1.1v1.1h-1.1zM753.9 242.5h1.1v1.1h-1.1zM783.5 244.5h1.1v1.1h-1.1zM806.9 242.2h1.1v1.1h-1.1zM814.8 241.1h1.1v1.1h-1.1zM832.3 245.8h1.1v1.1h-1.1zM861.9 240.0h1.1v1.1h-1.1zM877.7 241.6h1.1v1.1h-1.1zM662.9 250.0h1.1v1.1h-1.1zM683.9 250.8h1.1v1.1h-1.1zM686.7 246.4h1.1v1.1h-1.1zM692.9 246.7h1.1v1.1h-1.1zM712.2 252.4h1.1v1.1h-1.1zM723.4 249.2h1.1v1.1h-1.1zM740.1 248.6h1.1v1.1h-1.1zM748.7 251.9h1.1v1.1h-1.1zM754.5 249.8h1.1v1.1h-1.1zM761.6 249.2h1.1v1.1h-1.1zM775.2 246.7h1.1v1.1h-1.1zM787.0 252.8h1.1v1.1h-1.1zM818.0 248.0h1.1v1.1h-1.1zM827.6 247.3h1.1v1.1h-1.1zM831.9 248.4h1.1v1.1h-1.1zM854.4 247.5h1.1v1.1h-1.1zM890.1 249.3h1.1v1.1h-1.1zM665.2 257.7h1.1v1.1h-1.1zM684.1 256.2h1.1v1.1h-1.1zM695.3 257.1h1.1v1.1h-1.1zM719.8 259.3h1.1v1.1h-1.1zM763.9 256.7h1.1v1.1h-1.1zM821.2 253.0h1.1v1.1h-1.1zM856.0 258.3h1.1v1.1h-1.1zM888.8 259.3h1.1v1.1h-1.1zM889.5 258.3h1.1v1.1h-1.1zM676.9 263.1h1.1v1.1h-1.1zM678.0 260.8h1.1v1.1h-1.1zM695.4 262.1h1.1v1.1h-1.1zM728.3 260.8h1.1v1.1h-1.1zM732.3 262.8h1.1v1.1h-1.1zM740.2 263.2h1.1v1.1h-1.1zM744.5 263.0h1.1v1.1h-1.1zM754.1 265.2h1.1v1.1h-1.1zM757.5 262.5h1.1v1.1h-1.1zM774.3 265.9h1.1v1.1h-1.1zM867.4 259.9h1.1v1.1h-1.1zM881.1 260.3h1.1v1.1h-1.1zM884.0 261.9h1.1v1.1h-1.1zM891.9 265.1h1.1v1.1h-1.1zM681.7 267.9h1.1v1.1h-1.1zM714.9 270.5h1.1v1.1h-1.1zM751.8 271.6h1.1v1.1h-1.1zM778.4 272.0h1.1v1.1h-1.1zM783.7 267.2h1.1v1.1h-1.1zM799.9 267.9h1.1v1.1h-1.1zM816.3 266.4h1.1v1.1h-1.1zM828.1 270.4h1.1v1.1h-1.1zM842.0 272.4h1.1v1.1h-1.1zM854.3 269.6h1.1v1.1h-1.1zM857.6 272.0h1.1v1.1h-1.1zM666.6 274.8h1.1v1.1h-1.1zM697.5 275.2h1.1v1.1h-1.1zM754.4 273.3h1.1v1.1h-1.1zM787.7 275.5h1.1v1.1h-1.1zM801.9 273.4h1.1v1.1h-1.1zM805.4 276.1h1.1v1.1h-1.1zM816.6 274.9h1.1v1.1h-1.1zM829.5 273.2h1.1v1.1h-1.1zM854.8 275.6h1.1v1.1h-1.1zM870.7 276.9h1.1v1.1h-1.1zM879.0 273.0h1.1v1.1h-1.1zM884.4 277.9h1.1v1.1h-1.1zM892.0 274.6h1.1v1.1h-1.1zM688.5 280.2h1.1v1.1h-1.1zM699.3 283.4h1.1v1.1h-1.1zM705.2 280.6h1.1v1.1h-1.1zM716.4 284.5h1.1v1.1h-1.1zM755.7 285.4h1.1v1.1h-1.1zM762.7 279.8h1.1v1.1h-1.1zM777.0 279.5h1.1v1.1h-1.1zM896.2 281.6h1.1v1.1h-1.1zM668.5 287.3h1.1v1.1h-1.1zM675.8 286.2h1.1v1.1h-1.1zM681.7 289.8h1.1v1.1h-1.1zM745.1 286.3h1.1v1.1h-1.1zM761.5 290.3h1.1v1.1h-1.1zM776.7 291.8h1.1v1.1h-1.1zM778.6 288.8h1.1v1.1h-1.1zM828.6 291.2h1.1v1.1h-1.1zM840.7 288.9h1.1v1.1h-1.1zM864.1 290.2h1.1v1.1h-1.1zM878.4 289.5h1.1v1.1h-1.1zM659.7 298.2h1.1v1.1h-1.1zM666.9 296.5h1.1v1.1h-1.1zM672.7 293.5h1.1v1.1h-1.1zM701.8 298.1h1.1v1.1h-1.1zM726.5 295.0h1.1v1.1h-1.1zM762.0 293.6h1.1v1.1h-1.1zM764.5 295.8h1.1v1.1h-1.1zM782.1 294.3h1.1v1.1h-1.1zM793.9 294.6h1.1v1.1h-1.1zM805.0 295.5h1.1v1.1h-1.1zM851.7 295.1h1.1v1.1h-1.1zM856.9 296.7h1.1v1.1h-1.1zM667.5 302.4h1.1v1.1h-1.1zM698.2 304.8h1.1v1.1h-1.1zM717.8 303.7h1.1v1.1h-1.1zM726.2 304.9h1.1v1.1h-1.1zM735.2 302.0h1.1v1.1h-1.1zM764.2 301.7h1.1v1.1h-1.1zM775.9 302.9h1.1v1.1h-1.1zM797.5 300.6h1.1v1.1h-1.1zM817.7 305.3h1.1v1.1h-1.1zM833.1 301.9h1.1v1.1h-1.1zM848.1 301.1h1.1v1.1h-1.1zM850.8 305.6h1.1v1.1h-1.1zM876.7 305.0h1.1v1.1h-1.1zM885.7 299.3h1.1v1.1h-1.1zM897.1 304.0h1.1v1.1h-1.1zM685.9 311.3h1.1v1.1h-1.1zM744.8 307.7h1.1v1.1h-1.1zM771.0 311.9h1.1v1.1h-1.1zM799.8 311.5h1.1v1.1h-1.1zM820.2 307.8h1.1v1.1h-1.1zM886.7 306.7h1.1v1.1h-1.1zM894.5 306.3h1.1v1.1h-1.1zM694.1 313.5h1.1v1.1h-1.1zM716.8 317.2h1.1v1.1h-1.1zM724.7 312.8h1.1v1.1h-1.1zM750.4 315.2h1.1v1.1h-1.1zM765.2 317.5h1.1v1.1h-1.1zM783.7 316.5h1.1v1.1h-1.1zM830.9 318.5h1.1v1.1h-1.1zM874.4 313.0h1.1v1.1h-1.1zM663.5 324.3h1.1v1.1h-1.1zM665.7 321.5h1.1v1.1h-1.1zM682.7 322.9h1.1v1.1h-1.1zM710.0 322.8h1.1v1.1h-1.1zM716.7 319.3h1.1v1.1h-1.1zM722.6 324.2h1.1v1.1h-1.1zM733.3 319.6h1.1v1.1h-1.1zM741.6 324.2h1.1v1.1h-1.1zM779.1 324.6h1.1v1.1h-1.1zM824.5 324.9h1.1v1.1h-1.1zM839.5 325.3h1.1v1.1h-1.1zM856.7 320.6h1.1v1.1h-1.1zM873.7 325.5h1.1v1.1h-1.1zM893.4 319.5h1.1v1.1h-1.1zM660.4 330.0h1.1v1.1h-1.1zM669.1 331.8h1.1v1.1h-1.1zM694.7 328.6h1.1v1.1h-1.1zM703.5 330.4h1.1v1.1h-1.1zM718.4 329.5h1.1v1.1h-1.1zM741.3 327.2h1.1v1.1h-1.1zM754.7 330.9h1.1v1.1h-1.1zM761.2 328.9h1.1v1.1h-1.1zM801.1 331.6h1.1v1.1h-1.1zM822.3 328.7h1.1v1.1h-1.1zM843.5 331.7h1.1v1.1h-1.1zM852.4 331.1h1.1v1.1h-1.1zM692.1 333.4h1.1v1.1h-1.1zM706.8 338.4h1.1v1.1h-1.1zM728.7 333.1h1.1v1.1h-1.1zM756.0 336.6h1.1v1.1h-1.1zM759.9 333.6h1.1v1.1h-1.1zM788.3 337.6h1.1v1.1h-1.1zM792.5 334.1h1.1v1.1h-1.1zM801.2 336.8h1.1v1.1h-1.1zM809.1 336.9h1.1v1.1h-1.1zM813.8 335.6h1.1v1.1h-1.1zM890.9 338.6h1.1v1.1h-1.1zM663.1 339.0h1.1v1.1h-1.1zM666.4 341.3h1.1v1.1h-1.1zM680.4 342.2h1.1v1.1h-1.1zM701.9 340.5h1.1v1.1h-1.1zM717.2 344.6h1.1v1.1h-1.1zM740.1 340.1h1.1v1.1h-1.1zM761.9 345.1h1.1v1.1h-1.1zM772.5 341.6h1.1v1.1h-1.1zM787.1 342.9h1.1v1.1h-1.1zM797.3 343.7h1.1v1.1h-1.1zM805.5 344.7h1.1v1.1h-1.1zM860.7 345.0h1.1v1.1h-1.1zM670.3 347.6h1.1v1.1h-1.1zM677.0 348.6h1.1v1.1h-1.1zM700.5 349.2h1.1v1.1h-1.1zM718.5 349.7h1.1v1.1h-1.1zM750.4 349.1h1.1v1.1h-1.1zM762.4 349.6h1.1v1.1h-1.1zM788.5 345.7h1.1v1.1h-1.1zM808.2 346.1h1.1v1.1h-1.1zM810.4 346.3h1.1v1.1h-1.1zM839.9 350.8h1.1v1.1h-1.1zM846.5 349.4h1.1v1.1h-1.1zM849.9 345.8h1.1v1.1h-1.1zM860.1 348.4h1.1v1.1h-1.1zM877.2 350.1h1.1v1.1h-1.1zM893.0 346.0h1.1v1.1h-1.1zM897.9 346.0h1.1v1.1h-1.1zM676.2 353.0h1.1v1.1h-1.1zM723.4 357.5h1.1v1.1h-1.1zM757.6 354.9h1.1v1.1h-1.1zM767.9 355.1h1.1v1.1h-1.1zM786.9 354.2h1.1v1.1h-1.1zM809.1 357.2h1.1v1.1h-1.1zM831.0 352.4h1.1v1.1h-1.1zM848.9 355.4h1.1v1.1h-1.1zM861.0 357.8h1.1v1.1h-1.1zM889.6 357.7h1.1v1.1h-1.1zM897.3 358.4h1.1v1.1h-1.1zM671.7 363.4h1.1v1.1h-1.1zM688.1 363.4h1.1v1.1h-1.1zM705.9 361.2h1.1v1.1h-1.1zM715.4 361.5h1.1v1.1h-1.1zM742.8 363.9h1.1v1.1h-1.1zM750.9 359.2h1.1v1.1h-1.1zM865.8 359.3h1.1v1.1h-1.1zM658.5 366.7h1.1v1.1h-1.1zM671.9 371.4h1.1v1.1h-1.1zM678.2 368.6h1.1v1.1h-1.1zM725.2 365.3h1.1v1.1h-1.1zM736.0 371.2h1.1v1.1h-1.1zM740.3 370.1h1.1v1.1h-1.1zM748.1 370.3h1.1v1.1h-1.1zM774.5 369.5h1.1v1.1h-1.1zM778.3 369.1h1.1v1.1h-1.1zM809.4 367.9h1.1v1.1h-1.1zM817.9 368.3h1.1v1.1h-1.1zM828.6 370.1h1.1v1.1h-1.1zM858.7 367.5h1.1v1.1h-1.1zM683.0 373.5h1.1v1.1h-1.1zM688.8 377.5h1.1v1.1h-1.1zM729.3 376.1h1.1v1.1h-1.1zM760.8 373.0h1.1v1.1h-1.1zM772.6 375.3h1.1v1.1h-1.1zM787.5 374.9h1.1v1.1h-1.1zM799.7 376.3h1.1v1.1h-1.1zM835.5 373.3h1.1v1.1h-1.1zM873.0 378.0h1.1v1.1h-1.1zM884.5 377.2h1.1v1.1h-1.1zM898.2 372.6h1.1v1.1h-1.1zM663.1 383.9h1.1v1.1h-1.1zM665.9 380.0h1.1v1.1h-1.1zM688.4 384.0h1.1v1.1h-1.1zM691.3 384.3h1.1v1.1h-1.1zM718.9 380.1h1.1v1.1h-1.1zM738.2 380.6h1.1v1.1h-1.1zM746.1 380.3h1.1v1.1h-1.1zM764.2 382.5h1.1v1.1h-1.1zM776.6 379.3h1.1v1.1h-1.1zM784.6 384.5h1.1v1.1h-1.1zM795.3 383.4h1.1v1.1h-1.1zM837.1 379.7h1.1v1.1h-1.1zM872.6 379.8h1.1v1.1h-1.1zM883.8 380.5h1.1v1.1h-1.1zM897.1 383.5h1.1v1.1h-1.1zM733.6 390.6h1.1v1.1h-1.1zM740.0 389.7h1.1v1.1h-1.1zM763.8 391.5h1.1v1.1h-1.1zM771.1 388.1h1.1v1.1h-1.1zM777.0 389.3h1.1v1.1h-1.1zM791.0 389.6h1.1v1.1h-1.1zM809.2 389.4h1.1v1.1h-1.1zM844.5 389.9h1.1v1.1h-1.1zM887.7 385.2h1.1v1.1h-1.1zM676.6 397.3h1.1v1.1h-1.1zM703.9 393.6h1.1v1.1h-1.1zM717.0 391.7h1.1v1.1h-1.1zM720.1 395.8h1.1v1.1h-1.1zM729.0 393.2h1.1v1.1h-1.1zM735.9 398.1h1.1v1.1h-1.1zM776.0 392.5h1.1v1.1h-1.1zM823.5 392.0h1.1v1.1h-1.1zM829.9 397.3h1.1v1.1h-1.1zM844.8 395.8h1.1v1.1h-1.1zM852.5 397.5h1.1v1.1h-1.1zM866.4 392.3h1.1v1.1h-1.1zM879.0 394.3h1.1v1.1h-1.1zM883.9 393.0h1.1v1.1h-1.1zM891.4 397.9h1.1v1.1h-1.1zM661.8 401.2h1.1v1.1h-1.1zM685.1 403.4h1.1v1.1h-1.1zM696.3 399.6h1.1v1.1h-1.1zM700.5 400.7h1.1v1.1h-1.1zM712.8 400.4h1.1v1.1h-1.1zM723.8 401.4h1.1v1.1h-1.1zM724.1 404.0h1.1v1.1h-1.1zM736.9 404.8h1.1v1.1h-1.1zM758.4 398.4h1.1v1.1h-1.1zM769.2 402.9h1.1v1.1h-1.1zM780.5 399.1h1.1v1.1h-1.1zM798.1 399.6h1.1v1.1h-1.1zM847.7 402.9h1.1v1.1h-1.1zM876.7 401.2h1.1v1.1h-1.1zM672.5 406.9h1.1v1.1h-1.1zM700.7 408.2h1.1v1.1h-1.1zM705.3 405.3h1.1v1.1h-1.1zM728.7 410.3h1.1v1.1h-1.1zM731.6 410.5h1.1v1.1h-1.1zM740.8 405.1h1.1v1.1h-1.1zM746.9 408.2h1.1v1.1h-1.1zM761.1 405.8h1.1v1.1h-1.1zM768.0 409.7h1.1v1.1h-1.1zM782.0 408.7h1.1v1.1h-1.1zM831.3 408.8h1.1v1.1h-1.1zM848.1 405.2h1.1v1.1h-1.1zM857.9 408.1h1.1v1.1h-1.1zM884.1 409.6h1.1v1.1h-1.1zM697.7 416.1h1.1v1.1h-1.1zM712.0 415.4h1.1v1.1h-1.1zM743.6 418.0h1.1v1.1h-1.1zM755.6 415.5h1.1v1.1h-1.1zM757.4 414.9h1.1v1.1h-1.1zM769.6 416.6h1.1v1.1h-1.1zM779.7 411.6h1.1v1.1h-1.1zM795.7 417.4h1.1v1.1h-1.1zM800.0 414.7h1.1v1.1h-1.1zM813.1 417.5h1.1v1.1h-1.1zM825.7 415.8h1.1v1.1h-1.1zM842.5 417.7h1.1v1.1h-1.1zM851.2 417.4h1.1v1.1h-1.1zM861.2 416.8h1.1v1.1h-1.1zM867.1 413.5h1.1v1.1h-1.1zM660.7 419.9h1.1v1.1h-1.1zM698.2 421.3h1.1v1.1h-1.1zM712.6 420.4h1.1v1.1h-1.1zM729.1 422.6h1.1v1.1h-1.1zM755.8 419.9h1.1v1.1h-1.1zM763.5 421.6h1.1v1.1h-1.1zM775.9 419.7h1.1v1.1h-1.1zM791.4 422.0h1.1v1.1h-1.1zM797.1 419.9h1.1v1.1h-1.1zM861.3 422.5h1.1v1.1h-1.1zM876.9 422.5h1.1v1.1h-1.1zM698.4 426.5h1.1v1.1h-1.1zM706.6 429.7h1.1v1.1h-1.1zM715.4 427.8h1.1v1.1h-1.1zM718.7 430.9h1.1v1.1h-1.1zM728.4 427.0h1.1v1.1h-1.1zM731.9 426.5h1.1v1.1h-1.1zM789.8 426.7h1.1v1.1h-1.1zM822.6 426.4h1.1v1.1h-1.1zM852.8 427.4h1.1v1.1h-1.1zM869.2 428.7h1.1v1.1h-1.1zM896.7 427.9h1.1v1.1h-1.1zM689.5 436.7h1.1v1.1h-1.1zM760.9 434.5h1.1v1.1h-1.1zM767.9 432.2h1.1v1.1h-1.1zM779.0 431.9h1.1v1.1h-1.1zM825.2 433.0h1.1v1.1h-1.1zM889.8 435.7h1.1v1.1h-1.1zM896.8 437.7h1.1v1.1h-1.1zM718.2 440.3h1.1v1.1h-1.1zM731.2 439.8h1.1v1.1h-1.1zM739.3 443.8h1.1v1.1h-1.1zM749.5 441.7h1.1v1.1h-1.1zM755.6 443.3h1.1v1.1h-1.1zM786.7 440.6h1.1v1.1h-1.1zM798.4 442.9h1.1v1.1h-1.1zM811.4 443.9h1.1v1.1h-1.1zM841.0 443.5h1.1v1.1h-1.1zM862.5 440.7h1.1v1.1h-1.1zM867.1 442.0h1.1v1.1h-1.1zM878.2 438.0h1.1v1.1h-1.1zM699.9 444.8h1.1v1.1h-1.1zM718.4 449.6h1.1v1.1h-1.1zM765.0 448.2h1.1v1.1h-1.1zM784.9 448.3h1.1v1.1h-1.1zM795.8 445.2h1.1v1.1h-1.1zM798.7 448.7h1.1v1.1h-1.1zM859.1 444.5h1.1v1.1h-1.1zM865.1 445.9h1.1v1.1h-1.1zM888.9 449.4h1.1v1.1h-1.1zM897.7 450.1h1.1v1.1h-1.1zM674.6 452.9h1.1v1.1h-1.1zM680.1 453.4h1.1v1.1h-1.1zM691.8 452.9h1.1v1.1h-1.1zM709.8 455.0h1.1v1.1h-1.1zM726.4 457.5h1.1v1.1h-1.1zM745.3 451.0h1.1v1.1h-1.1zM759.7 452.5h1.1v1.1h-1.1zM778.3 457.3h1.1v1.1h-1.1zM786.0 451.3h1.1v1.1h-1.1zM814.4 456.1h1.1v1.1h-1.1zM819.8 453.1h1.1v1.1h-1.1zM826.5 455.7h1.1v1.1h-1.1zM838.2 452.3h1.1v1.1h-1.1zM876.3 455.1h1.1v1.1h-1.1zM888.6 457.4h1.1v1.1h-1.1zM896.8 456.5h1.1v1.1h-1.1zM667.5 463.1h1.1v1.1h-1.1zM691.4 458.1h1.1v1.1h-1.1zM702.3 457.9h1.1v1.1h-1.1zM706.1 459.4h1.1v1.1h-1.1zM721.4 464.0h1.1v1.1h-1.1zM730.1 463.0h1.1v1.1h-1.1zM732.5 459.6h1.1v1.1h-1.1zM790.2 462.6h1.1v1.1h-1.1zM804.6 459.9h1.1v1.1h-1.1zM833.9 459.2h1.1v1.1h-1.1zM864.3 463.1h1.1v1.1h-1.1zM880.4 458.7h1.1v1.1h-1.1zM888.1 462.8h1.1v1.1h-1.1zM891.9 460.7h1.1v1.1h-1.1zM678.8 465.4h1.1v1.1h-1.1zM689.9 465.3h1.1v1.1h-1.1zM694.5 467.1h1.1v1.1h-1.1zM707.1 470.1h1.1v1.1h-1.1zM723.0 470.7h1.1v1.1h-1.1zM728.8 465.7h1.1v1.1h-1.1zM740.4 464.6h1.1v1.1h-1.1zM784.9 465.8h1.1v1.1h-1.1zM824.5 467.0h1.1v1.1h-1.1zM840.7 468.1h1.1v1.1h-1.1zM888.9 464.3h1.1v1.1h-1.1zM669.4 472.2h1.1v1.1h-1.1zM693.2 471.6h1.1v1.1h-1.1zM716.1 471.6h1.1v1.1h-1.1zM804.2 473.4h1.1v1.1h-1.1zM811.6 471.8h1.1v1.1h-1.1zM828.9 472.4h1.1v1.1h-1.1zM829.7 471.3h1.1v1.1h-1.1zM876.4 471.0h1.1v1.1h-1.1z" fill="#b4b4b4"/>
<path d="M1 87H407V411H1Z" fill="none" stroke="#1a1a1a" stroke-width="2"/>
<path d="M407 87H603V270H407" fill="none" stroke="#1a1a1a" stroke-width="2"/>
<path d="M657 87H899.9V474.7H657Z" fill="none" stroke="#1a1a1a" stroke-width="2"/>
<line x1="2.5" y1="87.8" x2="7.8" y2="94.7" stroke="#141414" stroke-width="1.6" stroke-linecap="butt"/>
<line x1="405.9" y1="87.8" x2="400.6" y2="94.7" stroke="#141414" stroke-width="1.6" stroke-linecap="butt"/>
<line x1="17.9" y1="111.3" x2="29.8" y2="128.0" stroke="#141414" stroke-width="1.6" stroke-linecap="butt"/>
<line x1="390.5" y1="111.3" x2="378.6" y2="128.0" stroke="#141414" stroke-width="1.6" stroke-linecap="butt"/>
<line x1="39.8" y1="143.6" x2="51.1" y2="159.9" stroke="#141414" stroke-width="1.6" stroke-linecap="butt"/>
<line x1="368.6" y1="143.6" x2="357.3" y2="159.9" stroke="#141414" stroke-width="1.6" stroke-linecap="butt"/>
<line x1="61.8" y1="175.0" x2="73.0" y2="191.3" stroke="#141414" stroke-width="1.6" stroke-linecap="butt"/>
<line x1="346.6" y1="175.0" x2="335.4" y2="191.3" stroke="#141414" stroke-width="1.6" stroke-linecap="butt"/>
<line x1="84.0" y1="207.0" x2="95.0" y2="224.0" stroke="#141414" stroke-width="1.6" stroke-linecap="butt"/>
<line x1="324.4" y1="207.0" x2="313.4" y2="224.0" stroke="#141414" stroke-width="1.6" stroke-linecap="butt"/>
<line x1="105.3" y1="239.2" x2="111.6" y2="248.7" stroke="#141414" stroke-width="1.6" stroke-linecap="butt"/>
<line x1="303.1" y1="239.2" x2="296.8" y2="248.7" stroke="#141414" stroke-width="1.6" stroke-linecap="butt"/>
<line x1="2.6" y1="409.8" x2="9.4" y2="400.1" stroke="#141414" stroke-width="1.6" stroke-linecap="butt"/>
<line x1="405.8" y1="409.8" x2="399.0" y2="400.1" stroke="#141414" stroke-width="1.6" stroke-linecap="butt"/>
<line x1="22.7" y1="380.0" x2="36.9" y2="359.3" stroke="#141414" stroke-width="1.6" stroke-linecap="butt"/>
<line x1="385.7" y1="380.0" x2="371.5" y2="359.3" stroke="#141414" stroke-width="1.6" stroke-linecap="butt"/>
<line x1="50.2" y1="339.2" x2="64.4" y2="318.5" stroke="#141414" stroke-width="1.6" stroke-linecap="butt"/>
<line x1="358.2" y1="339.2" x2="344.0" y2="318.5" stroke="#141414" stroke-width="1.6" stroke-linecap="butt"/>
<line x1="78.0" y1="298.2" x2="92.2" y2="278.0" stroke="#141414" stroke-width="1.6" stroke-linecap="butt"/>
<line x1="330.4" y1="298.2" x2="316.2" y2="278.0" stroke="#141414" stroke-width="1.6" stroke-linecap="butt"/>
<line x1="105.5" y1="258.2" x2="111.6" y2="248.7" stroke="#141414" stroke-width="1.6" stroke-linecap="butt"/>
<line x1="302.9" y1="258.2" x2="296.8" y2="248.7" stroke="#141414" stroke-width="1.6" stroke-linecap="butt"/>
<line x1="111.6" y1="248.7" x2="123.8" y2="248.7" stroke="#141414" stroke-width="1.6" stroke-linecap="butt"/>
<line x1="145.0" y1="248.7" x2="170.0" y2="248.7" stroke="#141414" stroke-width="1.6" stroke-linecap="butt"/>
<line x1="191.9" y1="248.7" x2="216.9" y2="248.7" stroke="#141414" stroke-width="1.6" stroke-linecap="butt"/>
<line x1="238.3" y1="248.7" x2="263.5" y2="248.7" stroke="#141414" stroke-width="1.6" stroke-linecap="butt"/>
<line x1="284.6" y1="248.7" x2="296.8" y2="248.7" stroke="#141414" stroke-width="1.6" stroke-linecap="butt"/>
<line x1="658.0" y1="88.6" x2="660.5" y2="97.2" stroke="#141414" stroke-width="1.6" stroke-linecap="butt"/>
<line x1="658.0" y1="472.8" x2="660.5" y2="464.2" stroke="#141414" stroke-width="1.6" stroke-linecap="butt"/>
<line x1="898.4" y1="88.6" x2="895.9" y2="97.2" stroke="#141414" stroke-width="1.6" stroke-linecap="butt"/>
<line x1="898.4" y1="472.8" x2="895.9" y2="464.2" stroke="#141414" stroke-width="1.6" stroke-linecap="butt"/>
<line x1="667.2" y1="116.4" x2="674.3" y2="135.9" stroke="#141414" stroke-width="1.6" stroke-linecap="butt"/>
<line x1="667.2" y1="445.0" x2="674.3" y2="425.5" stroke="#141414" stroke-width="1.6" stroke-linecap="butt"/>
<line x1="889.2" y1="116.4" x2="882.1" y2="135.9" stroke="#141414" stroke-width="1.6" stroke-linecap="butt"/>
<line x1="889.2" y1="445.0" x2="882.1" y2="425.5" stroke="#141414" stroke-width="1.6" stroke-linecap="butt"/>
<line x1="680.6" y1="154.6" x2="687.7" y2="174.4" stroke="#141414" stroke-width="1.6" stroke-linecap="butt"/>
<line x1="680.6" y1="406.8" x2="687.7" y2="387.0" stroke="#141414" stroke-width="1.6" stroke-linecap="butt"/>
<line x1="875.8" y1="154.6" x2="868.7" y2="174.4" stroke="#141414" stroke-width="1.6" stroke-linecap="butt"/>
<line x1="875.8" y1="406.8" x2="868.7" y2="387.0" stroke="#141414" stroke-width="1.6" stroke-linecap="butt"/>
<line x1="694.0" y1="193.0" x2="701.3" y2="213.5" stroke="#141414" stroke-width="1.6" stroke-linecap="butt"/>
<line x1="694.0" y1="368.4" x2="701.3" y2="347.9" stroke="#141414" stroke-width="1.6" stroke-linecap="butt"/>
<line x1="862.4" y1="193.0" x2="855.1" y2="213.5" stroke="#141414" stroke-width="1.6" stroke-linecap="butt"/>
<line x1="862.4" y1="368.4" x2="855.1" y2="347.9" stroke="#141414" stroke-width="1.6" stroke-linecap="butt"/>
<line x1="707.8" y1="231.7" x2="715.1" y2="251.8" stroke="#141414" stroke-width="1.6" stroke-linecap="butt"/>
<line x1="707.8" y1="329.7" x2="715.1" y2="309.6" stroke="#141414" stroke-width="1.6" stroke-linecap="butt"/>
<line x1="848.6" y1="231.7" x2="841.3" y2="251.8" stroke="#141414" stroke-width="1.6" stroke-linecap="butt"/>
<line x1="848.6" y1="329.7" x2="841.3" y2="309.6" stroke="#141414" stroke-width="1.6" stroke-linecap="butt"/>
<line x1="721.2" y1="270.2" x2="724.6" y2="280.7" stroke="#141414" stroke-width="1.6" stroke-linecap="butt"/>
<line x1="721.2" y1="291.2" x2="724.6" y2="280.7" stroke="#141414" stroke-width="1.6" stroke-linecap="butt"/>
<line x1="835.2" y1="270.2" x2="831.8" y2="280.7" stroke="#141414" stroke-width="1.6" stroke-linecap="butt"/>
<line x1="835.2" y1="291.2" x2="831.8" y2="280.7" stroke="#141414" stroke-width="1.6" stroke-linecap="butt"/>
<line x1="724.6" y1="280.7" x2="736.7" y2="280.7" stroke="#141414" stroke-width="1.6" stroke-linecap="butt"/>
<line x1="752.0" y1="280.7" x2="770.9" y2="280.7" stroke="#141414" stroke-width="1.6" stroke-linecap="butt"/>
<line x1="785.8" y1="280.7" x2="804.8" y2="280.7" stroke="#141414" stroke-width="1.6" stroke-linecap="butt"/>
<line x1="819.7" y1="280.7" x2="831.8" y2="280.7" stroke="#141414" stroke-width="1.6" stroke-linecap="butt"/>
<line x1="583.0" y1="89.1" x2="584.1" y2="88.0" stroke="#1a1a1a" stroke-width="1.4" stroke-linecap="butt"/>
<line x1="583.0" y1="100.0" x2="595.0" y2="88.0" stroke="#1a1a1a" stroke-width="1.4" stroke-linecap="butt"/>
<line x1="583.0" y1="110.9" x2="602.0" y2="91.9" stroke="#1a1a1a" stroke-width="1.4" stroke-linecap="butt"/>
<line x1="583.0" y1="121.8" x2="602.0" y2="102.8" stroke="#1a1a1a" stroke-width="1.4" stroke-linecap="butt"/>
<line x1="583.0" y1="132.7" x2="602.0" y2="113.7" stroke="#1a1a1a" stroke-width="1.4" stroke-linecap="butt"/>
<line x1="583.0" y1="143.6" x2="602.0" y2="124.6" stroke="#1a1a1a" stroke-width="1.4" stroke-linecap="butt"/>
<line x1="583.0" y1="154.5" x2="602.0" y2="135.5" stroke="#1a1a1a" stroke-width="1.4" stroke-linecap="butt"/>
<line x1="583.0" y1="165.4" x2="602.0" y2="146.4" stroke="#1a1a1a" stroke-width="1.4" stroke-linecap="butt"/>
<line x1="583.0" y1="176.3" x2="602.0" y2="157.3" stroke="#1a1a1a" stroke-width="1.4" stroke-linecap="butt"/>
<line x1="583.0" y1="187.2" x2="602.0" y2="168.2" stroke="#1a1a1a" stroke-width="1.4" stroke-linecap="butt"/>
<line x1="583.0" y1="198.1" x2="602.0" y2="179.1" stroke="#1a1a1a" stroke-width="1.4" stroke-linecap="butt"/>
<line x1="583.0" y1="209.0" x2="602.0" y2="190.0" stroke="#1a1a1a" stroke-width="1.4" stroke-linecap="butt"/>
<line x1="583.0" y1="219.9" x2="602.0" y2="200.9" stroke="#1a1a1a" stroke-width="1.4" stroke-linecap="butt"/>
<line x1="583.0" y1="230.8" x2="602.0" y2="211.8" stroke="#1a1a1a" stroke-width="1.4" stroke-linecap="butt"/>
<line x1="583.0" y1="241.7" x2="602.0" y2="222.7" stroke="#1a1a1a" stroke-width="1.4" stroke-linecap="butt"/>
<line x1="583.0" y1="252.6" x2="602.0" y2="233.6" stroke="#1a1a1a" stroke-width="1.4" stroke-linecap="butt"/>
<line x1="583.0" y1="263.5" x2="602.0" y2="244.5" stroke="#1a1a1a" stroke-width="1.4" stroke-linecap="butt"/>
<line x1="588.4" y1="269.0" x2="602.0" y2="255.4" stroke="#1a1a1a" stroke-width="1.4" stroke-linecap="butt"/>
<line x1="599.3" y1="269.0" x2="602.0" y2="266.3" stroke="#1a1a1a" stroke-width="1.4" stroke-linecap="butt"/>
<line x1="582.5" y1="87" x2="582.5" y2="270" stroke="#1a1a1a" stroke-width="2"/>
<line x1="591.6" y1="23.0" x2="591.6" y2="70.0" stroke="#1a1a1a" stroke-width="1.2" stroke-linecap="butt"/>
<path d="M586.3 67.2H597L591.6 86Z" fill="#1a1a1a"/>
<line x1="735.6" y1="549.6" x2="735.6" y2="492.0" stroke="#1a1a1a" stroke-width="1.2" stroke-linecap="butt"/>
<path d="M730.7 494.8H741.5L736.1 476.3Z" fill="#1a1a1a"/>
<line x1="481.8" y1="485.6" x2="612.0" y2="296.0" stroke="#1a1a1a" stroke-width="1.1" stroke-linecap="butt"/>
<path d="M607.8 293.3L616.5 299.1L623.2 280.4Z" fill="#1a1a1a"/>
<g font-family="Liberation Sans, sans-serif" font-size="21.8" fill="#111" stroke="#fff" stroke-width="0.2">
<text x="401" y="16" text-anchor="start">Wall with a FRL of 60/60/60</text>
<path transform="translate(198.00 186.00) scale(0.010645 -0.010645)" d="M755 0H595V1150Q518 1085 412 1023Q306 961 223 935V1092Q374 1165 487 1266Q600 1367 652 1466H755Z"/>
<text x="480" y="186" text-anchor="start"><tspan fill="transparent">1</tspan>0a</text>
<path transform="translate(480.00 186.00) scale(0.010645 -0.010645)" d="M755 0H595V1150Q518 1085 412 1023Q306 961 223 935V1092Q374 1165 487 1266Q600 1367 652 1466H755Z"/>
<text x="323.5" y="496.6" text-anchor="start">Less than <tspan fill="transparent">1</tspan>.8 m</text>
<path transform="translate(424.06 496.60) scale(0.010645 -0.010645)" d="M755 0H595V1150Q518 1085 412 1023Q306 961 223 935V1092Q374 1165 487 1266Q600 1367 652 1466H755Z"/>
<text x="502.5" y="569.6" text-anchor="start">Other class of building on allotment</text>
</g>
</svg>
</body></html>
